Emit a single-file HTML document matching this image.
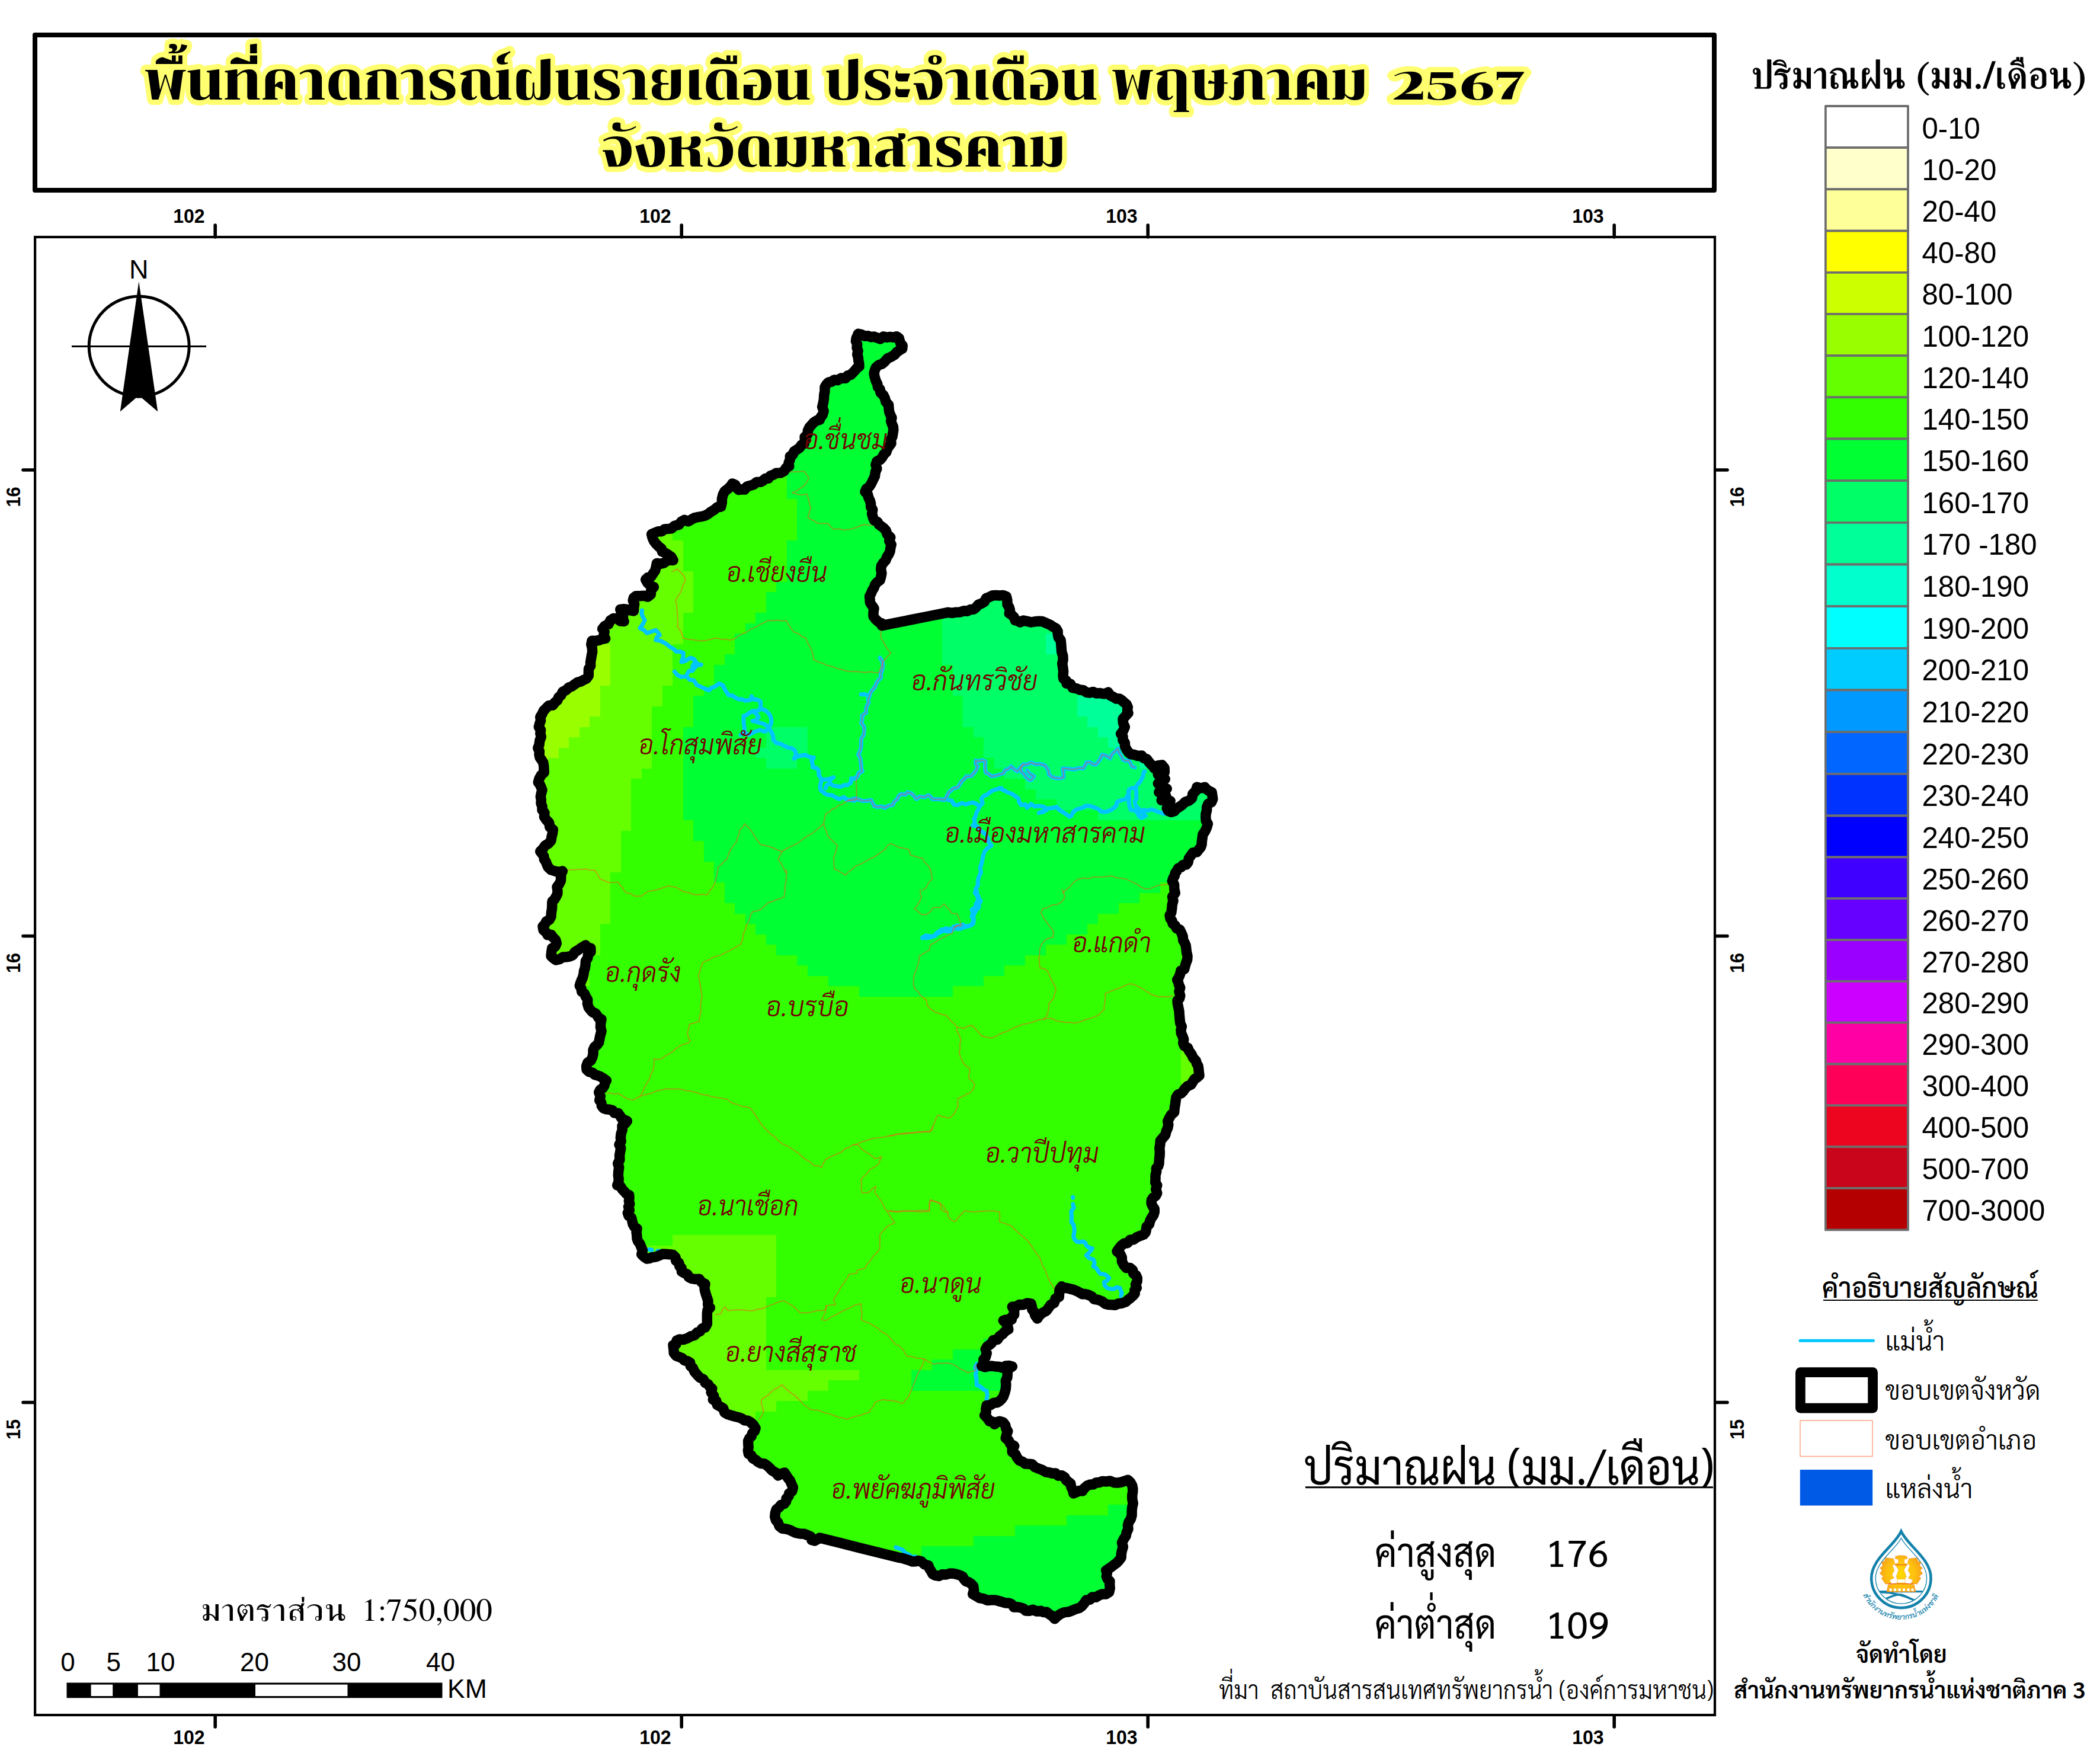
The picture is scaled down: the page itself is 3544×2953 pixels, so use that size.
<!DOCTYPE html>
<html lang="th"><head><meta charset="utf-8"><title>พื้นที่คาดการณ์ฝนรายเดือน จังหวัดมหาสารคาม</title>
<style>html,body{margin:0;padding:0;background:#fff}svg{display:block}text{white-space:pre}</style></head><body>
<svg width="3544" height="2953" viewBox="0 0 3544 2953">
<rect width="3544" height="2953" fill="#fff"/>
<rect x="59" y="59" width="2834" height="262" fill="#fff" stroke="#000" stroke-width="8" stroke-linejoin="round"/>
<text x="244.0" y="167.6" font-family="Chonburi,'Noto Serif Thai','Liberation Serif',serif" font-size="91" font-weight="400" textLength="2065.0" lengthAdjust="spacingAndGlyphs" stroke="#ffff70" stroke-width="18" stroke-linejoin="round" paint-order="stroke">พื้นที่คาดการณ์ฝนรายเดือน ประจำเดือน พฤษภาคม</text>
<text x="2349.0" y="167.6" font-family="Chonburi,'Noto Serif Thai','Liberation Serif',serif" font-size="65" font-weight="400" textLength="226.0" lengthAdjust="spacingAndGlyphs" stroke="#ffff70" stroke-width="18" stroke-linejoin="round" paint-order="stroke">2567</text>
<text x="1015.0" y="280.6" font-family="Chonburi,'Noto Serif Thai','Liberation Serif',serif" font-size="91" font-weight="400" textLength="784.0" lengthAdjust="spacingAndGlyphs" stroke="#ffff70" stroke-width="18" stroke-linejoin="round" paint-order="stroke">จังหวัดมหาสารคาม</text>
<rect x="59.1" y="400" width="2834.9" height="2494" fill="#fff" stroke="#000" stroke-width="4.2"/>
<g stroke="#000" stroke-width="5.6" stroke-linecap="round">
<path d="M363.2,380 V400 M363.2,2896 V2914"/>
<path d="M1150.2,380 V400 M1150.2,2896 V2914"/>
<path d="M1937.2,380 V400 M1937.2,2896 V2914"/>
<path d="M2724.2,380 V400 M2724.2,2896 V2914"/>
<path d="M39,793 H58 M2897,793 H2915"/>
<path d="M39,1579.5 H58 M2897,1579.5 H2915"/>
<path d="M39,2366.5 H58 M2897,2366.5 H2915"/>
</g>
<text x="292.2" y="376.0" font-family="'Liberation Sans',Arial,sans-serif" font-size="33" font-weight="700" textLength="53.5" lengthAdjust="spacingAndGlyphs">102</text>
<text x="292.2" y="2943.0" font-family="'Liberation Sans',Arial,sans-serif" font-size="33" font-weight="700" textLength="53.5" lengthAdjust="spacingAndGlyphs">102</text>
<text x="1079.2" y="376.0" font-family="'Liberation Sans',Arial,sans-serif" font-size="33" font-weight="700" textLength="53.5" lengthAdjust="spacingAndGlyphs">102</text>
<text x="1079.2" y="2943.0" font-family="'Liberation Sans',Arial,sans-serif" font-size="33" font-weight="700" textLength="53.5" lengthAdjust="spacingAndGlyphs">102</text>
<text x="1866.2" y="376.0" font-family="'Liberation Sans',Arial,sans-serif" font-size="33" font-weight="700" textLength="53.5" lengthAdjust="spacingAndGlyphs">103</text>
<text x="1866.2" y="2943.0" font-family="'Liberation Sans',Arial,sans-serif" font-size="33" font-weight="700" textLength="53.5" lengthAdjust="spacingAndGlyphs">103</text>
<text x="2653.2" y="376.0" font-family="'Liberation Sans',Arial,sans-serif" font-size="33" font-weight="700" textLength="53.5" lengthAdjust="spacingAndGlyphs">103</text>
<text x="2653.2" y="2943.0" font-family="'Liberation Sans',Arial,sans-serif" font-size="33" font-weight="700" textLength="53.5" lengthAdjust="spacingAndGlyphs">103</text>
<text transform="translate(34.4,855.5) rotate(-90)" font-family="'Liberation Sans',Arial,sans-serif" font-size="33" font-weight="700" textLength="34" lengthAdjust="spacingAndGlyphs">16</text>
<text transform="translate(2943,855.5) rotate(-90)" font-family="'Liberation Sans',Arial,sans-serif" font-size="33" font-weight="700" textLength="34" lengthAdjust="spacingAndGlyphs">16</text>
<text transform="translate(34.4,1642.0) rotate(-90)" font-family="'Liberation Sans',Arial,sans-serif" font-size="33" font-weight="700" textLength="34" lengthAdjust="spacingAndGlyphs">16</text>
<text transform="translate(2943,1642.0) rotate(-90)" font-family="'Liberation Sans',Arial,sans-serif" font-size="33" font-weight="700" textLength="34" lengthAdjust="spacingAndGlyphs">16</text>
<text transform="translate(34.4,2429.0) rotate(-90)" font-family="'Liberation Sans',Arial,sans-serif" font-size="33" font-weight="700" textLength="34" lengthAdjust="spacingAndGlyphs">15</text>
<text transform="translate(2943,2429.0) rotate(-90)" font-family="'Liberation Sans',Arial,sans-serif" font-size="33" font-weight="700" textLength="34" lengthAdjust="spacingAndGlyphs">15</text>
<text x="234.3" y="470.0" font-family="'Liberation Sans',Arial,sans-serif" font-size="45" font-weight="400" text-anchor="middle">N</text>
<circle cx="234.7" cy="584.4" r="84.5" fill="none" stroke="#000" stroke-width="5"/>
<path d="M121,584.4 H348" stroke="#000" stroke-width="3"/>
<path d="M234.3,475 L266.2,694.5 L239.2,671.5 H229.4 L202.8,694.5 Z" fill="#000"/>
<defs><clipPath id="prov"><path d="M1218.3,848.3 1218.4,841.6 1220.0,835.0 1223.0,829.0 1228.3,825.0 1232.7,820.9 1236.0,816.0 1240.9,818.2 1243.0,823.2 1246.7,826.7 1251.6,825.7 1256.7,826.0 1260.6,821.0 1266.7,819.3 1272.2,817.4 1277.1,813.4 1283.3,813.3 1287.7,811.1 1291.4,807.6 1296.7,807.3 1300.1,802.8 1305.4,801.1 1310.0,798.3 1317.0,798.1 1323.3,795.0 1326.3,789.7 1331.7,786.7 1331.0,781.0 1333.3,775.6 1333.3,770.0 1338.2,767.1 1340.0,761.7 1345.2,758.6 1350.0,755.0 1352.4,750.8 1357.3,748.4 1358.3,743.3 1358.1,737.2 1363.2,732.7 1363.3,726.7 1365.9,721.2 1370.0,716.7 1373.6,712.6 1378.0,709.7 1383.3,708.3 1385.1,703.7 1388.3,700.0 1390.1,693.4 1387.6,686.6 1389.3,680.0 1390.4,673.4 1390.7,666.7 1391.9,660.1 1392.0,653.3 1394.7,648.8 1398.3,645.0 1403.4,644.1 1407.9,640.9 1413.3,641.7 1419.5,638.1 1426.7,638.3 1430.3,634.0 1436.0,632.3 1440.0,628.3 1443.1,624.8 1446.1,621.1 1450.0,618.3 1449.8,613.3 1448.7,608.4 1448.3,603.3 1446.7,597.9 1448.1,592.0 1446.0,586.7 1446.7,581.1 1444.4,575.6 1445.3,570.0 1447.1,566.8 1448.3,563.3 1453.9,564.6 1459.1,567.2 1465.0,566.7 1469.8,568.8 1475.2,568.0 1480.0,570.0 1485.6,571.9 1491.0,567.9 1496.7,569.3 1502.2,568.4 1507.9,569.3 1513.3,567.7 1517.1,570.5 1518.3,575.0 1519.8,579.4 1523.2,583.3 1522.7,588.3 1518.0,591.1 1513.5,594.1 1510.0,598.3 1504.3,602.0 1497.9,604.8 1493.3,610.0 1488.8,614.0 1482.9,616.0 1478.3,620.0 1476.3,624.9 1475.0,630.0 1476.3,636.8 1478.3,643.3 1480.7,647.7 1481.4,652.9 1485.0,656.7 1486.1,662.6 1490.7,666.6 1493.3,671.7 1494.9,678.0 1499.6,683.2 1500.0,690.0 1500.8,695.3 1502.7,700.2 1505.0,705.0 1503.6,710.3 1505.2,715.2 1507.3,720.0 1507.8,725.6 1506.9,731.2 1506.0,736.7 1503.3,742.0 1504.0,748.5 1500.0,753.3 1497.4,757.9 1495.7,763.0 1491.7,766.7 1489.0,771.7 1485.3,775.8 1480.0,778.3 1477.9,784.3 1479.8,790.8 1477.3,796.7 1476.4,803.7 1473.3,810.0 1470.4,816.1 1466.7,821.7 1462.1,824.8 1460.0,830.0 1464.4,834.1 1465.8,839.9 1468.3,845.0 1469.6,850.1 1469.6,855.5 1472.7,860.0 1471.6,866.7 1473.3,873.3 1475.5,878.3 1480.7,880.5 1483.3,885.0 1487.5,888.1 1491.5,891.2 1495.0,895.0 1497.4,901.8 1502.7,906.7 1500.7,912.8 1504.2,918.9 1502.7,925.0 1502.0,930.5 1499.8,935.4 1496.7,940.0 1494.6,945.6 1490.5,950.0 1487.3,955.0 1486.7,961.1 1487.9,967.3 1486.7,973.3 1485.1,979.1 1480.3,982.4 1476.7,986.7 1475.0,991.9 1472.0,996.5 1470.0,1001.7 1467.5,1006.4 1468.1,1011.6 1468.3,1016.7 1471.6,1021.7 1475.0,1026.7 1474.0,1033.3 1474.0,1040.0 1478.1,1045.5 1483.3,1050.0 1487.3,1051.5 1488.3,1055.7 1533.3,1046.7 1566.7,1040.0 1600.0,1033.3 1606.8,1034.4 1613.5,1033.2 1620.2,1033.0 1626.7,1030.7 1632.4,1031.2 1637.7,1028.6 1643.3,1028.3 1647.5,1024.6 1651.2,1020.3 1656.7,1018.3 1661.5,1015.1 1664.3,1009.5 1670.0,1007.3 1675.3,1004.7 1680.9,1004.5 1686.7,1005.0 1692.7,1004.4 1698.3,1006.7 1699.9,1013.2 1700.0,1020.0 1703.0,1024.6 1704.4,1029.5 1703.3,1035.0 1707.8,1037.9 1711.3,1041.6 1713.3,1046.7 1717.7,1047.8 1721.7,1050.0 1727.2,1047.1 1733.3,1048.3 1740.0,1050.0 1746.7,1048.8 1753.3,1048.3 1758.8,1048.5 1763.7,1050.6 1768.5,1052.7 1773.3,1055.0 1777.6,1057.9 1782.2,1060.4 1785.0,1065.0 1785.2,1070.5 1786.3,1075.7 1790.0,1080.0 1790.7,1086.7 1791.2,1093.3 1791.7,1100.0 1793.8,1106.6 1794.1,1113.2 1792.7,1120.0 1793.8,1126.6 1794.6,1133.3 1794.0,1140.0 1794.7,1145.0 1799.4,1148.3 1800.0,1153.3 1806.5,1154.2 1810.2,1160.7 1816.7,1161.7 1822.2,1164.0 1828.4,1164.7 1833.3,1168.3 1838.9,1169.1 1844.7,1167.4 1850.0,1170.0 1856.7,1169.6 1863.5,1171.0 1870.0,1168.3 1874.0,1173.7 1880.0,1176.7 1884.1,1179.1 1889.3,1179.0 1893.3,1181.7 1897.1,1185.2 1901.1,1188.5 1903.3,1193.3 1902.5,1198.4 1904.0,1203.3 1899.4,1208.2 1895.0,1213.3 1895.5,1220.3 1898.3,1226.7 1895.7,1232.9 1891.7,1238.3 1895.0,1242.8 1894.9,1248.9 1898.3,1253.3 1898.6,1259.7 1901.3,1265.0 1905.0,1270.0 1908.7,1272.9 1913.3,1273.3 1919.8,1275.6 1926.7,1275.0 1929.9,1279.1 1935.2,1280.8 1938.3,1285.0 1941.6,1288.9 1945.5,1292.4 1948.3,1296.7 1953.8,1291.9 1961.0,1290.8 1965.1,1296.0 1965.4,1302.6 1960.2,1305.7 1954.3,1307.1 1958.8,1308.7 1961.8,1312.8 1966.2,1314.5 1961.2,1315.3 1958.4,1319.7 1954.3,1322.0 1958.3,1326.6 1963.1,1329.8 1969.2,1330.9 1963.9,1331.0 1960.5,1335.4 1955.8,1336.8 1962.3,1338.7 1967.7,1342.8 1964.8,1347.4 1960.2,1350.2 1965.3,1349.4 1970.3,1349.9 1975.1,1351.7 1971.7,1357.4 1969.2,1363.6 1971.7,1368.3 1976.6,1370.3 1981.9,1368.7 1985.5,1364.5 1990.0,1361.7 1995.4,1358.0 2000.0,1353.3 2006.5,1351.1 2011.7,1346.7 2012.8,1339.8 2017.9,1334.7 2020.0,1328.3 2026.7,1330.1 2033.3,1328.3 2036.5,1332.1 2040.5,1334.8 2045.0,1336.7 2045.9,1342.5 2046.7,1348.3 2044.5,1353.6 2039.0,1356.5 2036.7,1361.7 2036.6,1367.6 2035.0,1373.3 2034.8,1379.1 2035.2,1384.9 2038.3,1390.0 2037.1,1394.6 2035.4,1399.0 2033.3,1403.3 2029.8,1408.3 2029.1,1414.2 2028.3,1420.0 2028.0,1425.0 2026.5,1429.5 2023.3,1433.3 2019.8,1437.9 2013.4,1438.6 2010.0,1443.3 2006.3,1448.6 2005.0,1455.0 2002.0,1459.0 1996.4,1459.4 1993.3,1463.3 1988.5,1465.2 1986.2,1469.5 1983.3,1473.3 1982.3,1478.0 1979.8,1482.1 1978.3,1486.7 1981.6,1492.9 1981.7,1500.0 1983.2,1506.8 1978.5,1513.2 1980.0,1520.0 1978.2,1526.6 1977.7,1533.3 1976.7,1540.0 1974.0,1544.7 1975.0,1550.0 1978.0,1553.7 1979.2,1558.7 1983.3,1561.7 1985.6,1566.5 1991.0,1568.6 1993.3,1573.3 1996.1,1579.7 1996.7,1586.7 1999.2,1590.8 2001.1,1595.2 2001.7,1600.0 2002.5,1606.7 2004.0,1613.3 2003.7,1619.1 2001.7,1624.5 2000.0,1630.0 1998.6,1635.3 1992.9,1637.9 1991.7,1643.3 1989.7,1648.6 1986.7,1653.3 1988.5,1657.7 1989.7,1662.4 1991.7,1666.7 1989.9,1673.3 1991.7,1680.0 1990.6,1684.6 1987.0,1688.3 1987.3,1693.3 1988.7,1700.0 1990.0,1706.7 1990.4,1713.3 1991.0,1720.0 1991.7,1726.7 1994.3,1732.0 1993.0,1737.8 1993.3,1743.3 1995.8,1748.6 1997.7,1754.0 1996.7,1760.0 1998.9,1765.2 2004.5,1768.0 2006.7,1773.3 2010.7,1778.8 2013.6,1785.0 2018.3,1790.0 2019.5,1794.5 2022.0,1798.7 2022.7,1803.3 2023.3,1809.2 2024.0,1815.0 2020.3,1818.2 2016.0,1820.8 2013.3,1825.0 2010.0,1830.2 2004.3,1832.6 2000.0,1836.7 1997.0,1841.2 1993.2,1844.9 1987.9,1847.1 1985.0,1851.7 1984.1,1857.5 1983.3,1863.3 1982.2,1870.0 1981.7,1876.7 1976.6,1880.9 1973.3,1886.7 1970.7,1891.9 1971.8,1897.8 1970.7,1903.3 1968.2,1909.0 1966.7,1915.0 1962.5,1920.0 1958.3,1925.0 1957.9,1931.1 1956.8,1937.2 1957.3,1943.3 1957.1,1950.0 1956.3,1956.7 1956.0,1963.3 1954.6,1967.8 1951.3,1971.6 1951.7,1976.7 1950.0,1983.2 1950.0,1990.0 1949.7,1995.4 1952.7,2000.0 1950.7,2006.7 1952.7,2013.3 1950.4,2017.9 1946.2,2020.9 1943.3,2025.0 1943.1,2030.6 1945.2,2035.5 1948.3,2040.0 1948.2,2045.5 1946.6,2050.5 1943.3,2055.0 1940.8,2060.1 1939.4,2065.9 1935.0,2070.0 1934.4,2074.8 1933.4,2079.5 1930.0,2083.3 1924.1,2085.4 1918.3,2087.8 1913.3,2091.7 1907.1,2092.3 1902.8,2097.5 1896.7,2098.3 1892.1,2102.2 1888.4,2106.8 1885.0,2111.7 1890.4,2115.7 1893.3,2121.7 1893.4,2128.7 1896.7,2135.0 1900.7,2139.6 1907.3,2139.5 1911.7,2143.3 1912.5,2148.8 1917.2,2152.0 1919.3,2156.7 1919.1,2162.2 1916.5,2167.6 1918.3,2173.3 1914.8,2177.1 1915.2,2182.9 1911.7,2186.7 1908.0,2190.2 1903.8,2193.3 1900.0,2196.7 1893.5,2199.0 1886.7,2200.0 1881.9,2202.2 1876.7,2201.7 1870.7,2201.6 1865.0,2200.0 1859.7,2195.8 1853.3,2193.3 1846.8,2192.4 1842.3,2187.6 1836.7,2185.0 1831.6,2183.6 1826.0,2183.7 1821.4,2180.7 1816.7,2178.3 1811.3,2176.1 1805.6,2174.9 1800.0,2173.3 1795.2,2173.8 1791.7,2170.7 1788.1,2176.0 1787.5,2182.1 1787.3,2188.3 1781.2,2191.3 1779.2,2198.5 1773.3,2201.7 1769.6,2206.8 1765.9,2212.0 1760.0,2215.0 1754.4,2219.2 1750.7,2225.0 1746.9,2219.6 1745.0,2213.3 1741.8,2209.5 1741.3,2204.6 1740.0,2200.0 1733.1,2199.0 1726.7,2201.7 1720.3,2201.4 1714.6,2204.9 1708.3,2205.0 1711.5,2211.3 1711.7,2218.3 1707.9,2221.6 1707.3,2226.7 1702.6,2226.9 1697.9,2226.9 1693.3,2228.3 1697.7,2232.5 1700.6,2237.4 1701.7,2243.3 1696.2,2246.6 1691.9,2251.4 1686.7,2255.0 1683.5,2260.3 1676.5,2261.3 1673.3,2266.7 1669.6,2269.6 1665.7,2272.4 1663.3,2276.7 1665.2,2283.3 1663.3,2290.0 1659.7,2294.4 1660.6,2300.8 1656.7,2305.0 1662.4,2306.8 1668.3,2305.3 1674.2,2305.0 1680.0,2306.0 1685.7,2306.2 1691.3,2307.9 1697.0,2305.0 1702.7,2304.4 1708.3,2306.0 1704.1,2308.7 1700.0,2311.7 1700.3,2317.9 1699.9,2324.1 1697.3,2330.0 1697.8,2336.9 1697.3,2343.6 1695.6,2350.2 1693.3,2356.7 1690.6,2360.6 1687.3,2363.9 1683.3,2366.7 1676.9,2367.2 1671.4,2370.9 1665.0,2371.7 1663.9,2377.2 1664.2,2383.1 1661.7,2388.3 1666.4,2392.9 1670.0,2398.3 1675.3,2399.0 1678.3,2403.3 1681.9,2399.9 1686.7,2398.3 1692.8,2399.9 1696.7,2405.0 1697.7,2410.4 1700.7,2415.0 1698.8,2420.8 1697.3,2426.7 1702.3,2430.8 1705.0,2436.7 1708.4,2438.2 1711.7,2440.0 1708.2,2444.4 1708.3,2450.0 1713.8,2453.9 1716.7,2460.0 1720.3,2464.5 1725.7,2466.4 1730.0,2470.0 1735.8,2470.3 1741.7,2470.7 1746.7,2475.7 1753.3,2478.3 1759.4,2480.7 1765.0,2484.0 1770.6,2484.7 1776.0,2486.2 1781.7,2486.0 1785.8,2490.2 1791.9,2489.8 1796.7,2492.7 1798.9,2497.2 1802.7,2500.4 1806.7,2503.3 1807.8,2509.1 1810.4,2514.3 1811.7,2520.0 1816.5,2518.0 1821.2,2515.4 1826.7,2516.0 1830.1,2511.1 1834.4,2507.2 1840.0,2505.0 1845.2,2504.9 1849.8,2501.7 1855.0,2501.7 1860.6,2499.4 1866.7,2500.0 1873.6,2499.0 1880.0,2501.7 1886.1,2502.1 1892.0,2501.1 1897.6,2499.2 1903.3,2497.3 1907.8,2501.4 1910.7,2506.7 1911.8,2512.2 1911.6,2517.8 1910.7,2523.3 1910.8,2530.0 1912.2,2536.7 1910.7,2543.3 1910.1,2550.0 1910.1,2556.8 1908.3,2563.3 1904.9,2568.4 1903.4,2573.9 1904.0,2580.0 1901.4,2585.5 1900.1,2591.6 1896.7,2596.7 1893.5,2603.0 1895.3,2610.1 1893.3,2616.7 1892.3,2622.4 1892.1,2628.4 1888.3,2633.3 1884.8,2637.1 1880.6,2640.1 1876.7,2643.3 1871.7,2646.7 1866.7,2650.0 1868.3,2654.9 1867.3,2660.0 1869.1,2664.5 1872.9,2668.1 1872.7,2673.3 1873.2,2680.1 1871.7,2686.7 1866.3,2690.1 1860.0,2690.0 1854.6,2692.1 1849.5,2695.3 1843.3,2695.0 1839.3,2699.4 1833.3,2700.0 1830.1,2705.0 1826.4,2709.7 1821.7,2713.3 1815.4,2715.2 1809.4,2717.7 1803.3,2720.0 1796.4,2720.6 1790.0,2723.3 1784.6,2727.0 1780.0,2731.7 1775.6,2726.8 1770.0,2723.3 1766.1,2720.1 1760.9,2720.5 1756.7,2718.3 1750.0,2719.1 1743.3,2716.2 1736.7,2718.3 1731.2,2718.1 1727.0,2714.1 1721.9,2712.7 1716.7,2711.7 1711.0,2711.9 1707.1,2706.9 1702.2,2705.0 1696.7,2705.0 1691.0,2703.2 1685.2,2701.5 1679.5,2699.9 1673.3,2700.0 1666.4,2700.5 1660.0,2697.7 1653.3,2696.7 1647.5,2693.3 1641.7,2690.0 1643.6,2683.4 1642.7,2676.7 1639.2,2672.8 1635.0,2669.9 1630.0,2668.3 1626.9,2664.7 1624.6,2660.4 1620.0,2658.3 1614.6,2656.4 1609.1,2655.3 1603.3,2655.0 1596.8,2657.0 1590.0,2656.7 1584.5,2659.5 1578.3,2658.3 1573.9,2656.1 1571.7,2651.7 1568.6,2646.9 1566.7,2641.7 1560.0,2639.8 1555.0,2635.0 1550.0,2633.5 1545.0,2634.7 1540.0,2635.0 1534.3,2632.8 1528.5,2631.1 1522.7,2629.2 1516.7,2628.3 1483.3,2620.0 1450.0,2611.7 1416.7,2603.3 1383.3,2595.0 1379.2,2597.5 1375.0,2600.0 1369.7,2598.6 1368.0,2592.8 1363.3,2590.7 1356.9,2588.3 1350.0,2588.0 1343.3,2586.7 1337.8,2584.3 1332.5,2581.6 1326.7,2580.0 1320.1,2579.3 1315.0,2575.0 1313.1,2569.5 1309.3,2565.0 1307.7,2559.3 1308.3,2553.3 1310.1,2547.3 1315.0,2543.3 1318.2,2539.2 1323.4,2537.4 1326.7,2533.3 1327.1,2528.4 1331.0,2524.8 1331.7,2520.0 1336.7,2516.2 1338.3,2510.0 1335.8,2504.2 1333.3,2498.3 1329.8,2494.2 1327.0,2489.5 1324.0,2485.0 1318.3,2486.8 1313.3,2490.0 1309.1,2484.9 1303.3,2481.7 1299.2,2477.4 1294.9,2473.4 1290.0,2470.0 1284.2,2469.5 1279.4,2467.0 1275.0,2463.3 1270.4,2460.8 1267.9,2455.9 1263.3,2453.3 1262.3,2447.8 1263.2,2442.2 1262.7,2436.7 1262.6,2431.4 1264.7,2427.0 1268.3,2423.3 1269.6,2418.4 1273.5,2414.8 1275.0,2410.0 1271.5,2404.5 1266.7,2400.0 1262.0,2397.2 1256.3,2396.7 1251.7,2393.7 1246.7,2391.7 1240.5,2390.2 1234.4,2388.5 1228.3,2386.7 1222.7,2383.4 1220.7,2376.6 1215.0,2373.3 1210.2,2370.4 1208.7,2364.1 1203.3,2361.7 1204.7,2355.4 1200.1,2349.6 1201.7,2343.3 1197.7,2340.1 1194.8,2335.6 1190.0,2333.3 1187.0,2327.4 1181.0,2324.6 1176.7,2320.0 1172.1,2314.7 1169.3,2308.3 1165.2,2305.2 1164.6,2299.3 1160.0,2296.7 1155.0,2295.6 1151.3,2291.9 1146.7,2290.0 1141.1,2287.9 1137.3,2283.3 1136.8,2276.7 1136.0,2270.0 1140.9,2268.1 1142.0,2262.2 1146.7,2260.0 1153.5,2260.6 1160.0,2258.3 1165.6,2255.0 1172.0,2253.1 1176.7,2248.3 1181.6,2246.3 1184.9,2241.8 1190.0,2240.0 1193.4,2233.8 1193.3,2226.7 1193.3,2221.7 1193.3,2216.7 1194.0,2210.7 1198.3,2206.7 1194.6,2201.7 1195.0,2195.6 1193.3,2190.0 1191.1,2183.4 1189.3,2176.7 1188.8,2171.6 1190.0,2166.7 1184.0,2163.7 1180.0,2158.3 1173.3,2158.5 1166.7,2157.3 1162.3,2155.0 1159.8,2150.1 1155.0,2148.3 1150.4,2145.7 1150.3,2139.9 1146.7,2136.7 1145.8,2131.1 1140.7,2127.3 1140.0,2121.7 1135.8,2117.5 1130.0,2116.7 1124.4,2116.3 1118.7,2116.0 1113.3,2118.3 1106.9,2120.9 1100.0,2121.7 1096.0,2123.4 1091.7,2124.0 1086.9,2120.7 1082.7,2116.7 1084.4,2109.8 1081.7,2103.3 1079.8,2098.7 1076.7,2094.7 1075.0,2090.0 1074.7,2084.4 1074.0,2078.9 1075.0,2073.3 1070.5,2069.9 1068.0,2065.4 1066.7,2060.0 1065.5,2054.8 1061.0,2051.6 1059.3,2046.7 1062.3,2042.1 1060.5,2036.4 1062.7,2031.7 1061.3,2026.7 1062.0,2021.7 1061.7,2016.7 1056.9,2014.4 1053.5,2010.4 1050.0,2006.7 1047.1,2001.8 1041.7,2000.0 1043.9,1994.6 1044.1,1989.0 1043.3,1983.3 1043.7,1976.6 1044.7,1969.9 1042.7,1963.3 1045.9,1957.0 1045.5,1950.0 1046.7,1943.3 1047.8,1937.5 1045.0,1931.6 1048.2,1925.9 1047.3,1920.0 1048.0,1913.3 1050.2,1906.8 1050.0,1900.0 1054.6,1896.3 1058.3,1891.7 1053.9,1889.7 1049.4,1887.7 1046.7,1883.3 1043.3,1878.5 1036.8,1878.0 1033.3,1873.3 1028.3,1872.3 1023.2,1871.8 1018.3,1870.0 1015.3,1866.0 1014.8,1860.6 1011.7,1856.7 1013.3,1849.8 1010.7,1843.3 1013.0,1838.8 1017.4,1836.0 1020.0,1831.7 1020.9,1827.2 1023.3,1823.3 1018.5,1819.8 1013.3,1816.7 1008.7,1814.9 1003.8,1813.5 1000.0,1810.0 994.3,1808.8 990.0,1805.0 989.6,1799.0 991.7,1793.3 997.2,1789.5 1000.0,1783.3 1001.1,1777.8 1001.0,1772.0 1003.3,1766.7 1007.6,1763.2 1010.7,1758.9 1011.7,1753.3 1013.1,1746.6 1015.0,1740.0 1013.4,1733.3 1013.6,1726.7 1015.0,1720.0 1010.4,1717.9 1007.8,1713.8 1005.0,1710.0 999.9,1708.0 996.5,1704.2 993.3,1700.0 991.4,1693.5 991.7,1686.7 988.6,1682.0 986.4,1676.8 981.7,1673.3 981.0,1668.0 978.3,1663.3 979.6,1658.8 981.3,1654.3 983.3,1650.0 984.8,1644.5 985.5,1638.8 987.3,1633.3 988.1,1627.6 988.4,1621.7 991.7,1616.7 992.4,1610.8 997.0,1606.1 996.7,1600.0 991.7,1598.9 988.3,1595.0 984.2,1597.5 980.0,1600.0 975.2,1603.5 970.1,1606.6 966.7,1611.7 961.4,1614.0 955.8,1614.9 950.0,1615.0 944.6,1618.5 938.3,1620.0 933.9,1617.0 930.0,1613.3 930.6,1606.6 931.7,1600.0 937.0,1597.2 939.3,1591.7 937.6,1585.9 933.3,1581.7 930.4,1577.6 924.3,1577.8 921.7,1573.3 917.0,1569.3 916.0,1563.3 919.6,1559.7 921.7,1555.0 927.1,1552.1 930.0,1546.7 930.4,1540.0 931.5,1533.4 931.7,1526.7 931.9,1521.2 935.7,1517.6 938.3,1513.3 940.8,1508.0 940.9,1502.4 940.0,1496.7 943.7,1491.7 946.4,1486.3 946.7,1480.0 946.9,1474.7 949.3,1470.0 943.0,1471.7 936.7,1470.0 930.1,1468.0 925.0,1463.3 922.9,1458.8 921.3,1454.1 918.3,1450.0 917.8,1444.7 914.8,1440.7 911.7,1436.7 916.3,1432.1 920.0,1426.7 925.7,1423.4 930.0,1418.3 930.9,1412.2 932.4,1406.2 933.3,1400.0 927.8,1395.6 926.6,1388.2 921.7,1383.3 918.4,1378.2 918.9,1371.5 915.0,1366.7 915.1,1361.0 913.0,1355.6 913.3,1350.0 912.3,1344.3 913.4,1338.8 915.0,1333.3 913.3,1328.6 911.3,1324.1 908.3,1320.0 910.2,1313.6 913.4,1307.9 918.3,1303.3 917.9,1297.8 917.6,1292.2 916.7,1286.7 914.0,1282.4 911.1,1278.3 910.0,1273.3 910.4,1267.8 907.8,1262.2 910.0,1256.7 910.8,1249.8 913.3,1243.3 911.8,1237.8 912.6,1231.8 909.3,1226.7 910.7,1221.2 912.6,1215.8 911.7,1210.0 914.9,1204.9 917.4,1199.4 921.7,1195.0 926.0,1190.7 932.8,1190.0 936.7,1185.0 940.7,1181.7 942.7,1176.7 946.7,1173.3 949.6,1167.4 955.6,1164.4 960.0,1160.0 965.3,1158.2 969.8,1154.7 974.5,1151.5 980.0,1150.0 984.9,1147.3 990.0,1144.8 993.3,1140.0 993.3,1134.2 993.5,1128.5 996.7,1123.3 996.5,1117.7 997.4,1112.2 998.3,1106.7 999.6,1100.1 999.3,1093.3 997.8,1087.4 999.0,1081.3 1004.9,1081.6 1010.5,1080.4 1016.0,1078.5 1021.6,1077.5 1018.7,1072.4 1020.2,1066.0 1016.6,1061.1 1020.8,1056.1 1027.0,1053.3 1030.0,1047.0 1035.5,1043.5 1041.7,1044.0 1046.9,1048.0 1053.1,1048.6 1050.7,1043.8 1051.8,1037.9 1048.4,1033.5 1046.8,1028.4 1052.6,1027.7 1058.2,1028.4 1063.8,1029.9 1069.4,1030.9 1069.7,1025.0 1070.6,1019.0 1068.2,1013.3 1069.4,1008.7 1073.2,1005.8 1079.9,1005.7 1086.7,1005.3 1093.3,1007.0 1098.4,1002.7 1098.7,995.3 1103.4,990.7 1097.5,988.0 1092.9,983.7 1089.6,978.1 1093.4,974.4 1099.0,972.7 1102.0,968.0 1105.7,962.7 1107.2,956.6 1108.4,950.4 1114.3,951.6 1119.8,950.3 1124.9,946.7 1130.3,945.0 1136.1,945.4 1132.8,939.8 1127.6,936.2 1122.3,932.8 1117.5,930.9 1116.1,925.6 1112.2,922.8 1107.4,918.1 1103.4,912.7 1101.0,907.2 1099.6,901.4 1105.1,899.1 1110.6,896.8 1116.7,896.7 1121.6,892.9 1127.5,892.4 1133.3,891.7 1138.5,887.2 1145.6,885.5 1150.0,880.0 1155.2,877.3 1161.5,879.8 1166.7,876.7 1171.9,873.8 1177.6,872.7 1183.3,871.7 1189.5,870.2 1195.1,867.4 1200.0,863.3 1205.4,860.3 1210.2,856.0 1216.7,855.0Z"/></clipPath></defs>
<g clip-path="url(#prov)">
<path d="M1218.3,848.3 1218.4,841.6 1220.0,835.0 1223.0,829.0 1228.3,825.0 1232.7,820.9 1236.0,816.0 1240.9,818.2 1243.0,823.2 1246.7,826.7 1251.6,825.7 1256.7,826.0 1260.6,821.0 1266.7,819.3 1272.2,817.4 1277.1,813.4 1283.3,813.3 1287.7,811.1 1291.4,807.6 1296.7,807.3 1300.1,802.8 1305.4,801.1 1310.0,798.3 1317.0,798.1 1323.3,795.0 1326.3,789.7 1331.7,786.7 1331.0,781.0 1333.3,775.6 1333.3,770.0 1338.2,767.1 1340.0,761.7 1345.2,758.6 1350.0,755.0 1352.4,750.8 1357.3,748.4 1358.3,743.3 1358.1,737.2 1363.2,732.7 1363.3,726.7 1365.9,721.2 1370.0,716.7 1373.6,712.6 1378.0,709.7 1383.3,708.3 1385.1,703.7 1388.3,700.0 1390.1,693.4 1387.6,686.6 1389.3,680.0 1390.4,673.4 1390.7,666.7 1391.9,660.1 1392.0,653.3 1394.7,648.8 1398.3,645.0 1403.4,644.1 1407.9,640.9 1413.3,641.7 1419.5,638.1 1426.7,638.3 1430.3,634.0 1436.0,632.3 1440.0,628.3 1443.1,624.8 1446.1,621.1 1450.0,618.3 1449.8,613.3 1448.7,608.4 1448.3,603.3 1446.7,597.9 1448.1,592.0 1446.0,586.7 1446.7,581.1 1444.4,575.6 1445.3,570.0 1447.1,566.8 1448.3,563.3 1453.9,564.6 1459.1,567.2 1465.0,566.7 1469.8,568.8 1475.2,568.0 1480.0,570.0 1485.6,571.9 1491.0,567.9 1496.7,569.3 1502.2,568.4 1507.9,569.3 1513.3,567.7 1517.1,570.5 1518.3,575.0 1519.8,579.4 1523.2,583.3 1522.7,588.3 1518.0,591.1 1513.5,594.1 1510.0,598.3 1504.3,602.0 1497.9,604.8 1493.3,610.0 1488.8,614.0 1482.9,616.0 1478.3,620.0 1476.3,624.9 1475.0,630.0 1476.3,636.8 1478.3,643.3 1480.7,647.7 1481.4,652.9 1485.0,656.7 1486.1,662.6 1490.7,666.6 1493.3,671.7 1494.9,678.0 1499.6,683.2 1500.0,690.0 1500.8,695.3 1502.7,700.2 1505.0,705.0 1503.6,710.3 1505.2,715.2 1507.3,720.0 1507.8,725.6 1506.9,731.2 1506.0,736.7 1503.3,742.0 1504.0,748.5 1500.0,753.3 1497.4,757.9 1495.7,763.0 1491.7,766.7 1489.0,771.7 1485.3,775.8 1480.0,778.3 1477.9,784.3 1479.8,790.8 1477.3,796.7 1476.4,803.7 1473.3,810.0 1470.4,816.1 1466.7,821.7 1462.1,824.8 1460.0,830.0 1464.4,834.1 1465.8,839.9 1468.3,845.0 1469.6,850.1 1469.6,855.5 1472.7,860.0 1471.6,866.7 1473.3,873.3 1475.5,878.3 1480.7,880.5 1483.3,885.0 1487.5,888.1 1491.5,891.2 1495.0,895.0 1497.4,901.8 1502.7,906.7 1500.7,912.8 1504.2,918.9 1502.7,925.0 1502.0,930.5 1499.8,935.4 1496.7,940.0 1494.6,945.6 1490.5,950.0 1487.3,955.0 1486.7,961.1 1487.9,967.3 1486.7,973.3 1485.1,979.1 1480.3,982.4 1476.7,986.7 1475.0,991.9 1472.0,996.5 1470.0,1001.7 1467.5,1006.4 1468.1,1011.6 1468.3,1016.7 1471.6,1021.7 1475.0,1026.7 1474.0,1033.3 1474.0,1040.0 1478.1,1045.5 1483.3,1050.0 1487.3,1051.5 1488.3,1055.7 1533.3,1046.7 1566.7,1040.0 1600.0,1033.3 1606.8,1034.4 1613.5,1033.2 1620.2,1033.0 1626.7,1030.7 1632.4,1031.2 1637.7,1028.6 1643.3,1028.3 1647.5,1024.6 1651.2,1020.3 1656.7,1018.3 1661.5,1015.1 1664.3,1009.5 1670.0,1007.3 1675.3,1004.7 1680.9,1004.5 1686.7,1005.0 1692.7,1004.4 1698.3,1006.7 1699.9,1013.2 1700.0,1020.0 1703.0,1024.6 1704.4,1029.5 1703.3,1035.0 1707.8,1037.9 1711.3,1041.6 1713.3,1046.7 1717.7,1047.8 1721.7,1050.0 1727.2,1047.1 1733.3,1048.3 1740.0,1050.0 1746.7,1048.8 1753.3,1048.3 1758.8,1048.5 1763.7,1050.6 1768.5,1052.7 1773.3,1055.0 1777.6,1057.9 1782.2,1060.4 1785.0,1065.0 1785.2,1070.5 1786.3,1075.7 1790.0,1080.0 1790.7,1086.7 1791.2,1093.3 1791.7,1100.0 1793.8,1106.6 1794.1,1113.2 1792.7,1120.0 1793.8,1126.6 1794.6,1133.3 1794.0,1140.0 1794.7,1145.0 1799.4,1148.3 1800.0,1153.3 1806.5,1154.2 1810.2,1160.7 1816.7,1161.7 1822.2,1164.0 1828.4,1164.7 1833.3,1168.3 1838.9,1169.1 1844.7,1167.4 1850.0,1170.0 1856.7,1169.6 1863.5,1171.0 1870.0,1168.3 1874.0,1173.7 1880.0,1176.7 1884.1,1179.1 1889.3,1179.0 1893.3,1181.7 1897.1,1185.2 1901.1,1188.5 1903.3,1193.3 1902.5,1198.4 1904.0,1203.3 1899.4,1208.2 1895.0,1213.3 1895.5,1220.3 1898.3,1226.7 1895.7,1232.9 1891.7,1238.3 1895.0,1242.8 1894.9,1248.9 1898.3,1253.3 1898.6,1259.7 1901.3,1265.0 1905.0,1270.0 1908.7,1272.9 1913.3,1273.3 1919.8,1275.6 1926.7,1275.0 1929.9,1279.1 1935.2,1280.8 1938.3,1285.0 1941.6,1288.9 1945.5,1292.4 1948.3,1296.7 1953.8,1291.9 1961.0,1290.8 1965.1,1296.0 1965.4,1302.6 1960.2,1305.7 1954.3,1307.1 1958.8,1308.7 1961.8,1312.8 1966.2,1314.5 1961.2,1315.3 1958.4,1319.7 1954.3,1322.0 1958.3,1326.6 1963.1,1329.8 1969.2,1330.9 1963.9,1331.0 1960.5,1335.4 1955.8,1336.8 1962.3,1338.7 1967.7,1342.8 1964.8,1347.4 1960.2,1350.2 1965.3,1349.4 1970.3,1349.9 1975.1,1351.7 1971.7,1357.4 1969.2,1363.6 1971.7,1368.3 1976.6,1370.3 1981.9,1368.7 1985.5,1364.5 1990.0,1361.7 1995.4,1358.0 2000.0,1353.3 2006.5,1351.1 2011.7,1346.7 2012.8,1339.8 2017.9,1334.7 2020.0,1328.3 2026.7,1330.1 2033.3,1328.3 2036.5,1332.1 2040.5,1334.8 2045.0,1336.7 2045.9,1342.5 2046.7,1348.3 2044.5,1353.6 2039.0,1356.5 2036.7,1361.7 2036.6,1367.6 2035.0,1373.3 2034.8,1379.1 2035.2,1384.9 2038.3,1390.0 2037.1,1394.6 2035.4,1399.0 2033.3,1403.3 2029.8,1408.3 2029.1,1414.2 2028.3,1420.0 2028.0,1425.0 2026.5,1429.5 2023.3,1433.3 2019.8,1437.9 2013.4,1438.6 2010.0,1443.3 2006.3,1448.6 2005.0,1455.0 2002.0,1459.0 1996.4,1459.4 1993.3,1463.3 1988.5,1465.2 1986.2,1469.5 1983.3,1473.3 1982.3,1478.0 1979.8,1482.1 1978.3,1486.7 1981.6,1492.9 1981.7,1500.0 1983.2,1506.8 1978.5,1513.2 1980.0,1520.0 1978.2,1526.6 1977.7,1533.3 1976.7,1540.0 1974.0,1544.7 1975.0,1550.0 1978.0,1553.7 1979.2,1558.7 1983.3,1561.7 1985.6,1566.5 1991.0,1568.6 1993.3,1573.3 1996.1,1579.7 1996.7,1586.7 1999.2,1590.8 2001.1,1595.2 2001.7,1600.0 2002.5,1606.7 2004.0,1613.3 2003.7,1619.1 2001.7,1624.5 2000.0,1630.0 1998.6,1635.3 1992.9,1637.9 1991.7,1643.3 1989.7,1648.6 1986.7,1653.3 1988.5,1657.7 1989.7,1662.4 1991.7,1666.7 1989.9,1673.3 1991.7,1680.0 1990.6,1684.6 1987.0,1688.3 1987.3,1693.3 1988.7,1700.0 1990.0,1706.7 1990.4,1713.3 1991.0,1720.0 1991.7,1726.7 1994.3,1732.0 1993.0,1737.8 1993.3,1743.3 1995.8,1748.6 1997.7,1754.0 1996.7,1760.0 1998.9,1765.2 2004.5,1768.0 2006.7,1773.3 2010.7,1778.8 2013.6,1785.0 2018.3,1790.0 2019.5,1794.5 2022.0,1798.7 2022.7,1803.3 2023.3,1809.2 2024.0,1815.0 2020.3,1818.2 2016.0,1820.8 2013.3,1825.0 2010.0,1830.2 2004.3,1832.6 2000.0,1836.7 1997.0,1841.2 1993.2,1844.9 1987.9,1847.1 1985.0,1851.7 1984.1,1857.5 1983.3,1863.3 1982.2,1870.0 1981.7,1876.7 1976.6,1880.9 1973.3,1886.7 1970.7,1891.9 1971.8,1897.8 1970.7,1903.3 1968.2,1909.0 1966.7,1915.0 1962.5,1920.0 1958.3,1925.0 1957.9,1931.1 1956.8,1937.2 1957.3,1943.3 1957.1,1950.0 1956.3,1956.7 1956.0,1963.3 1954.6,1967.8 1951.3,1971.6 1951.7,1976.7 1950.0,1983.2 1950.0,1990.0 1949.7,1995.4 1952.7,2000.0 1950.7,2006.7 1952.7,2013.3 1950.4,2017.9 1946.2,2020.9 1943.3,2025.0 1943.1,2030.6 1945.2,2035.5 1948.3,2040.0 1948.2,2045.5 1946.6,2050.5 1943.3,2055.0 1940.8,2060.1 1939.4,2065.9 1935.0,2070.0 1934.4,2074.8 1933.4,2079.5 1930.0,2083.3 1924.1,2085.4 1918.3,2087.8 1913.3,2091.7 1907.1,2092.3 1902.8,2097.5 1896.7,2098.3 1892.1,2102.2 1888.4,2106.8 1885.0,2111.7 1890.4,2115.7 1893.3,2121.7 1893.4,2128.7 1896.7,2135.0 1900.7,2139.6 1907.3,2139.5 1911.7,2143.3 1912.5,2148.8 1917.2,2152.0 1919.3,2156.7 1919.1,2162.2 1916.5,2167.6 1918.3,2173.3 1914.8,2177.1 1915.2,2182.9 1911.7,2186.7 1908.0,2190.2 1903.8,2193.3 1900.0,2196.7 1893.5,2199.0 1886.7,2200.0 1881.9,2202.2 1876.7,2201.7 1870.7,2201.6 1865.0,2200.0 1859.7,2195.8 1853.3,2193.3 1846.8,2192.4 1842.3,2187.6 1836.7,2185.0 1831.6,2183.6 1826.0,2183.7 1821.4,2180.7 1816.7,2178.3 1811.3,2176.1 1805.6,2174.9 1800.0,2173.3 1795.2,2173.8 1791.7,2170.7 1788.1,2176.0 1787.5,2182.1 1787.3,2188.3 1781.2,2191.3 1779.2,2198.5 1773.3,2201.7 1769.6,2206.8 1765.9,2212.0 1760.0,2215.0 1754.4,2219.2 1750.7,2225.0 1746.9,2219.6 1745.0,2213.3 1741.8,2209.5 1741.3,2204.6 1740.0,2200.0 1733.1,2199.0 1726.7,2201.7 1720.3,2201.4 1714.6,2204.9 1708.3,2205.0 1711.5,2211.3 1711.7,2218.3 1707.9,2221.6 1707.3,2226.7 1702.6,2226.9 1697.9,2226.9 1693.3,2228.3 1697.7,2232.5 1700.6,2237.4 1701.7,2243.3 1696.2,2246.6 1691.9,2251.4 1686.7,2255.0 1683.5,2260.3 1676.5,2261.3 1673.3,2266.7 1669.6,2269.6 1665.7,2272.4 1663.3,2276.7 1665.2,2283.3 1663.3,2290.0 1659.7,2294.4 1660.6,2300.8 1656.7,2305.0 1662.4,2306.8 1668.3,2305.3 1674.2,2305.0 1680.0,2306.0 1685.7,2306.2 1691.3,2307.9 1697.0,2305.0 1702.7,2304.4 1708.3,2306.0 1704.1,2308.7 1700.0,2311.7 1700.3,2317.9 1699.9,2324.1 1697.3,2330.0 1697.8,2336.9 1697.3,2343.6 1695.6,2350.2 1693.3,2356.7 1690.6,2360.6 1687.3,2363.9 1683.3,2366.7 1676.9,2367.2 1671.4,2370.9 1665.0,2371.7 1663.9,2377.2 1664.2,2383.1 1661.7,2388.3 1666.4,2392.9 1670.0,2398.3 1675.3,2399.0 1678.3,2403.3 1681.9,2399.9 1686.7,2398.3 1692.8,2399.9 1696.7,2405.0 1697.7,2410.4 1700.7,2415.0 1698.8,2420.8 1697.3,2426.7 1702.3,2430.8 1705.0,2436.7 1708.4,2438.2 1711.7,2440.0 1708.2,2444.4 1708.3,2450.0 1713.8,2453.9 1716.7,2460.0 1720.3,2464.5 1725.7,2466.4 1730.0,2470.0 1735.8,2470.3 1741.7,2470.7 1746.7,2475.7 1753.3,2478.3 1759.4,2480.7 1765.0,2484.0 1770.6,2484.7 1776.0,2486.2 1781.7,2486.0 1785.8,2490.2 1791.9,2489.8 1796.7,2492.7 1798.9,2497.2 1802.7,2500.4 1806.7,2503.3 1807.8,2509.1 1810.4,2514.3 1811.7,2520.0 1816.5,2518.0 1821.2,2515.4 1826.7,2516.0 1830.1,2511.1 1834.4,2507.2 1840.0,2505.0 1845.2,2504.9 1849.8,2501.7 1855.0,2501.7 1860.6,2499.4 1866.7,2500.0 1873.6,2499.0 1880.0,2501.7 1886.1,2502.1 1892.0,2501.1 1897.6,2499.2 1903.3,2497.3 1907.8,2501.4 1910.7,2506.7 1911.8,2512.2 1911.6,2517.8 1910.7,2523.3 1910.8,2530.0 1912.2,2536.7 1910.7,2543.3 1910.1,2550.0 1910.1,2556.8 1908.3,2563.3 1904.9,2568.4 1903.4,2573.9 1904.0,2580.0 1901.4,2585.5 1900.1,2591.6 1896.7,2596.7 1893.5,2603.0 1895.3,2610.1 1893.3,2616.7 1892.3,2622.4 1892.1,2628.4 1888.3,2633.3 1884.8,2637.1 1880.6,2640.1 1876.7,2643.3 1871.7,2646.7 1866.7,2650.0 1868.3,2654.9 1867.3,2660.0 1869.1,2664.5 1872.9,2668.1 1872.7,2673.3 1873.2,2680.1 1871.7,2686.7 1866.3,2690.1 1860.0,2690.0 1854.6,2692.1 1849.5,2695.3 1843.3,2695.0 1839.3,2699.4 1833.3,2700.0 1830.1,2705.0 1826.4,2709.7 1821.7,2713.3 1815.4,2715.2 1809.4,2717.7 1803.3,2720.0 1796.4,2720.6 1790.0,2723.3 1784.6,2727.0 1780.0,2731.7 1775.6,2726.8 1770.0,2723.3 1766.1,2720.1 1760.9,2720.5 1756.7,2718.3 1750.0,2719.1 1743.3,2716.2 1736.7,2718.3 1731.2,2718.1 1727.0,2714.1 1721.9,2712.7 1716.7,2711.7 1711.0,2711.9 1707.1,2706.9 1702.2,2705.0 1696.7,2705.0 1691.0,2703.2 1685.2,2701.5 1679.5,2699.9 1673.3,2700.0 1666.4,2700.5 1660.0,2697.7 1653.3,2696.7 1647.5,2693.3 1641.7,2690.0 1643.6,2683.4 1642.7,2676.7 1639.2,2672.8 1635.0,2669.9 1630.0,2668.3 1626.9,2664.7 1624.6,2660.4 1620.0,2658.3 1614.6,2656.4 1609.1,2655.3 1603.3,2655.0 1596.8,2657.0 1590.0,2656.7 1584.5,2659.5 1578.3,2658.3 1573.9,2656.1 1571.7,2651.7 1568.6,2646.9 1566.7,2641.7 1560.0,2639.8 1555.0,2635.0 1550.0,2633.5 1545.0,2634.7 1540.0,2635.0 1534.3,2632.8 1528.5,2631.1 1522.7,2629.2 1516.7,2628.3 1483.3,2620.0 1450.0,2611.7 1416.7,2603.3 1383.3,2595.0 1379.2,2597.5 1375.0,2600.0 1369.7,2598.6 1368.0,2592.8 1363.3,2590.7 1356.9,2588.3 1350.0,2588.0 1343.3,2586.7 1337.8,2584.3 1332.5,2581.6 1326.7,2580.0 1320.1,2579.3 1315.0,2575.0 1313.1,2569.5 1309.3,2565.0 1307.7,2559.3 1308.3,2553.3 1310.1,2547.3 1315.0,2543.3 1318.2,2539.2 1323.4,2537.4 1326.7,2533.3 1327.1,2528.4 1331.0,2524.8 1331.7,2520.0 1336.7,2516.2 1338.3,2510.0 1335.8,2504.2 1333.3,2498.3 1329.8,2494.2 1327.0,2489.5 1324.0,2485.0 1318.3,2486.8 1313.3,2490.0 1309.1,2484.9 1303.3,2481.7 1299.2,2477.4 1294.9,2473.4 1290.0,2470.0 1284.2,2469.5 1279.4,2467.0 1275.0,2463.3 1270.4,2460.8 1267.9,2455.9 1263.3,2453.3 1262.3,2447.8 1263.2,2442.2 1262.7,2436.7 1262.6,2431.4 1264.7,2427.0 1268.3,2423.3 1269.6,2418.4 1273.5,2414.8 1275.0,2410.0 1271.5,2404.5 1266.7,2400.0 1262.0,2397.2 1256.3,2396.7 1251.7,2393.7 1246.7,2391.7 1240.5,2390.2 1234.4,2388.5 1228.3,2386.7 1222.7,2383.4 1220.7,2376.6 1215.0,2373.3 1210.2,2370.4 1208.7,2364.1 1203.3,2361.7 1204.7,2355.4 1200.1,2349.6 1201.7,2343.3 1197.7,2340.1 1194.8,2335.6 1190.0,2333.3 1187.0,2327.4 1181.0,2324.6 1176.7,2320.0 1172.1,2314.7 1169.3,2308.3 1165.2,2305.2 1164.6,2299.3 1160.0,2296.7 1155.0,2295.6 1151.3,2291.9 1146.7,2290.0 1141.1,2287.9 1137.3,2283.3 1136.8,2276.7 1136.0,2270.0 1140.9,2268.1 1142.0,2262.2 1146.7,2260.0 1153.5,2260.6 1160.0,2258.3 1165.6,2255.0 1172.0,2253.1 1176.7,2248.3 1181.6,2246.3 1184.9,2241.8 1190.0,2240.0 1193.4,2233.8 1193.3,2226.7 1193.3,2221.7 1193.3,2216.7 1194.0,2210.7 1198.3,2206.7 1194.6,2201.7 1195.0,2195.6 1193.3,2190.0 1191.1,2183.4 1189.3,2176.7 1188.8,2171.6 1190.0,2166.7 1184.0,2163.7 1180.0,2158.3 1173.3,2158.5 1166.7,2157.3 1162.3,2155.0 1159.8,2150.1 1155.0,2148.3 1150.4,2145.7 1150.3,2139.9 1146.7,2136.7 1145.8,2131.1 1140.7,2127.3 1140.0,2121.7 1135.8,2117.5 1130.0,2116.7 1124.4,2116.3 1118.7,2116.0 1113.3,2118.3 1106.9,2120.9 1100.0,2121.7 1096.0,2123.4 1091.7,2124.0 1086.9,2120.7 1082.7,2116.7 1084.4,2109.8 1081.7,2103.3 1079.8,2098.7 1076.7,2094.7 1075.0,2090.0 1074.7,2084.4 1074.0,2078.9 1075.0,2073.3 1070.5,2069.9 1068.0,2065.4 1066.7,2060.0 1065.5,2054.8 1061.0,2051.6 1059.3,2046.7 1062.3,2042.1 1060.5,2036.4 1062.7,2031.7 1061.3,2026.7 1062.0,2021.7 1061.7,2016.7 1056.9,2014.4 1053.5,2010.4 1050.0,2006.7 1047.1,2001.8 1041.7,2000.0 1043.9,1994.6 1044.1,1989.0 1043.3,1983.3 1043.7,1976.6 1044.7,1969.9 1042.7,1963.3 1045.9,1957.0 1045.5,1950.0 1046.7,1943.3 1047.8,1937.5 1045.0,1931.6 1048.2,1925.9 1047.3,1920.0 1048.0,1913.3 1050.2,1906.8 1050.0,1900.0 1054.6,1896.3 1058.3,1891.7 1053.9,1889.7 1049.4,1887.7 1046.7,1883.3 1043.3,1878.5 1036.8,1878.0 1033.3,1873.3 1028.3,1872.3 1023.2,1871.8 1018.3,1870.0 1015.3,1866.0 1014.8,1860.6 1011.7,1856.7 1013.3,1849.8 1010.7,1843.3 1013.0,1838.8 1017.4,1836.0 1020.0,1831.7 1020.9,1827.2 1023.3,1823.3 1018.5,1819.8 1013.3,1816.7 1008.7,1814.9 1003.8,1813.5 1000.0,1810.0 994.3,1808.8 990.0,1805.0 989.6,1799.0 991.7,1793.3 997.2,1789.5 1000.0,1783.3 1001.1,1777.8 1001.0,1772.0 1003.3,1766.7 1007.6,1763.2 1010.7,1758.9 1011.7,1753.3 1013.1,1746.6 1015.0,1740.0 1013.4,1733.3 1013.6,1726.7 1015.0,1720.0 1010.4,1717.9 1007.8,1713.8 1005.0,1710.0 999.9,1708.0 996.5,1704.2 993.3,1700.0 991.4,1693.5 991.7,1686.7 988.6,1682.0 986.4,1676.8 981.7,1673.3 981.0,1668.0 978.3,1663.3 979.6,1658.8 981.3,1654.3 983.3,1650.0 984.8,1644.5 985.5,1638.8 987.3,1633.3 988.1,1627.6 988.4,1621.7 991.7,1616.7 992.4,1610.8 997.0,1606.1 996.7,1600.0 991.7,1598.9 988.3,1595.0 984.2,1597.5 980.0,1600.0 975.2,1603.5 970.1,1606.6 966.7,1611.7 961.4,1614.0 955.8,1614.9 950.0,1615.0 944.6,1618.5 938.3,1620.0 933.9,1617.0 930.0,1613.3 930.6,1606.6 931.7,1600.0 937.0,1597.2 939.3,1591.7 937.6,1585.9 933.3,1581.7 930.4,1577.6 924.3,1577.8 921.7,1573.3 917.0,1569.3 916.0,1563.3 919.6,1559.7 921.7,1555.0 927.1,1552.1 930.0,1546.7 930.4,1540.0 931.5,1533.4 931.7,1526.7 931.9,1521.2 935.7,1517.6 938.3,1513.3 940.8,1508.0 940.9,1502.4 940.0,1496.7 943.7,1491.7 946.4,1486.3 946.7,1480.0 946.9,1474.7 949.3,1470.0 943.0,1471.7 936.7,1470.0 930.1,1468.0 925.0,1463.3 922.9,1458.8 921.3,1454.1 918.3,1450.0 917.8,1444.7 914.8,1440.7 911.7,1436.7 916.3,1432.1 920.0,1426.7 925.7,1423.4 930.0,1418.3 930.9,1412.2 932.4,1406.2 933.3,1400.0 927.8,1395.6 926.6,1388.2 921.7,1383.3 918.4,1378.2 918.9,1371.5 915.0,1366.7 915.1,1361.0 913.0,1355.6 913.3,1350.0 912.3,1344.3 913.4,1338.8 915.0,1333.3 913.3,1328.6 911.3,1324.1 908.3,1320.0 910.2,1313.6 913.4,1307.9 918.3,1303.3 917.9,1297.8 917.6,1292.2 916.7,1286.7 914.0,1282.4 911.1,1278.3 910.0,1273.3 910.4,1267.8 907.8,1262.2 910.0,1256.7 910.8,1249.8 913.3,1243.3 911.8,1237.8 912.6,1231.8 909.3,1226.7 910.7,1221.2 912.6,1215.8 911.7,1210.0 914.9,1204.9 917.4,1199.4 921.7,1195.0 926.0,1190.7 932.8,1190.0 936.7,1185.0 940.7,1181.7 942.7,1176.7 946.7,1173.3 949.6,1167.4 955.6,1164.4 960.0,1160.0 965.3,1158.2 969.8,1154.7 974.5,1151.5 980.0,1150.0 984.9,1147.3 990.0,1144.8 993.3,1140.0 993.3,1134.2 993.5,1128.5 996.7,1123.3 996.5,1117.7 997.4,1112.2 998.3,1106.7 999.6,1100.1 999.3,1093.3 997.8,1087.4 999.0,1081.3 1004.9,1081.6 1010.5,1080.4 1016.0,1078.5 1021.6,1077.5 1018.7,1072.4 1020.2,1066.0 1016.6,1061.1 1020.8,1056.1 1027.0,1053.3 1030.0,1047.0 1035.5,1043.5 1041.7,1044.0 1046.9,1048.0 1053.1,1048.6 1050.7,1043.8 1051.8,1037.9 1048.4,1033.5 1046.8,1028.4 1052.6,1027.7 1058.2,1028.4 1063.8,1029.9 1069.4,1030.9 1069.7,1025.0 1070.6,1019.0 1068.2,1013.3 1069.4,1008.7 1073.2,1005.8 1079.9,1005.7 1086.7,1005.3 1093.3,1007.0 1098.4,1002.7 1098.7,995.3 1103.4,990.7 1097.5,988.0 1092.9,983.7 1089.6,978.1 1093.4,974.4 1099.0,972.7 1102.0,968.0 1105.7,962.7 1107.2,956.6 1108.4,950.4 1114.3,951.6 1119.8,950.3 1124.9,946.7 1130.3,945.0 1136.1,945.4 1132.8,939.8 1127.6,936.2 1122.3,932.8 1117.5,930.9 1116.1,925.6 1112.2,922.8 1107.4,918.1 1103.4,912.7 1101.0,907.2 1099.6,901.4 1105.1,899.1 1110.6,896.8 1116.7,896.7 1121.6,892.9 1127.5,892.4 1133.3,891.7 1138.5,887.2 1145.6,885.5 1150.0,880.0 1155.2,877.3 1161.5,879.8 1166.7,876.7 1171.9,873.8 1177.6,872.7 1183.3,871.7 1189.5,870.2 1195.1,867.4 1200.0,863.3 1205.4,860.3 1210.2,856.0 1216.7,855.0Z" fill="#33ff00"/>
<g shape-rendering="crispEdges">
<path d="M1327.5,491.7 1327.5,841.7 1345.0,841.7 1345.0,911.7 1327.5,911.7 1327.5,981.7 1310.0,981.7 1310.0,999.2 1292.5,999.2 1292.5,1034.2 1275.0,1034.2 1275.0,1051.7 1257.5,1051.7 1257.5,1069.2 1240.0,1069.2 1240.0,1104.2 1222.5,1104.2 1222.5,1121.7 1205.0,1121.7 1205.0,1156.7 1187.5,1156.7 1187.5,1174.2 1170.0,1174.2 1170.0,1226.7 1152.5,1226.7 1152.5,1384.2 1170.0,1384.2 1170.0,1419.2 1187.5,1419.2 1187.5,1454.2 1205.0,1454.2 1205.0,1489.2 1222.5,1489.2 1222.5,1524.2 1240.0,1524.2 1240.0,1541.7 1257.5,1541.7 1257.5,1559.2 1275.0,1559.2 1275.0,1576.7 1292.5,1576.7 1292.5,1594.2 1310.0,1594.2 1310.0,1611.7 1345.0,1611.7 1345.0,1629.2 1362.5,1629.2 1362.5,1646.7 1397.5,1646.7 1397.5,1664.2 1450.0,1664.2 1450.0,1681.7 1607.5,1681.7 1607.5,1664.2 1660.0,1664.2 1660.0,1646.7 1695.0,1646.7 1695.0,1629.2 1730.0,1629.2 1730.0,1611.7 1765.0,1611.7 1765.0,1594.2 1800.0,1594.2 1800.0,1576.7 1835.0,1576.7 1835.0,1559.2 1852.5,1559.2 1852.5,1541.7 1887.5,1541.7 1887.5,1524.2 1922.5,1524.2 1922.5,1506.7 1957.5,1506.7 1957.5,1489.2 2097.5,1489.2 2097.5,491.7Z" fill="#00ff33"/>
<path d="M907.5,894.2 1135.0,894.2 1135.0,911.7 1152.5,911.7 1152.5,964.2 1170.0,964.2 1170.0,1034.2 1152.5,1034.2 1152.5,1086.7 1135.0,1086.7 1135.0,1156.7 1117.5,1156.7 1117.5,1191.7 1100.0,1191.7 1100.0,1296.7 1082.5,1296.7 1082.5,1314.2 1065.0,1314.2 1065.0,1401.7 1047.5,1401.7 1047.5,1471.7 1030.0,1471.7 1030.0,1559.2 1012.5,1559.2 1012.5,1611.7 995.0,1611.7 995.0,1664.2 907.5,1664.2Z" fill="#66ff00"/>
<path d="M872.5,1086.7 1030.0,1086.7 1030.0,1156.7 1012.5,1156.7 1012.5,1209.2 995.0,1209.2 995.0,1226.7 977.5,1226.7 977.5,1244.2 960.0,1244.2 960.0,1261.7 942.5,1261.7 942.5,1279.2 925.0,1279.2 925.0,1296.7 872.5,1296.7Z" fill="#99ff00"/>
<path d="M1135.0,2084.2 1310.0,2084.2 1310.0,2189.2 1292.5,2189.2 1292.5,2311.7 1450.0,2311.7 1450.0,2329.2 1397.5,2329.2 1397.5,2346.7 1362.5,2346.7 1362.5,2364.2 1310.0,2364.2 1310.0,2381.7 1275.0,2381.7 1275.0,2399.2 1082.5,2399.2 1082.5,2101.7 1135.0,2101.7Z" fill="#66ff00"/>
<path d="M1992.5,1769.2 2045.0,1769.2 2045.0,1839.2 1992.5,1839.2Z" fill="#66ff00"/>
<path d="M1660.0,2259.2 1712.5,2259.2 1712.5,2346.7 1537.5,2346.7 1537.5,2311.7 1572.5,2311.7 1572.5,2294.2 1607.5,2294.2 1607.5,2276.7 1660.0,2276.7Z" fill="#00ff33"/>
<path d="M1870.0,2539.2 1957.5,2539.2 1957.5,2766.7 1555.0,2766.7 1555.0,2609.2 1642.5,2609.2 1642.5,2591.7 1712.5,2591.7 1712.5,2574.2 1800.0,2574.2 1800.0,2556.7 1870.0,2556.7Z" fill="#00ff33"/>
<path d="M1590.0,999.2 1590.0,1121.7 1607.5,1121.7 1607.5,1174.2 1625.0,1174.2 1625.0,1226.7 1642.5,1226.7 1642.5,1244.2 1660.0,1244.2 1660.0,1279.2 1677.5,1279.2 1677.5,1296.7 1695.0,1296.7 1695.0,1314.2 1730.0,1314.2 1730.0,1331.7 1747.5,1331.7 1747.5,1349.2 1782.5,1349.2 1782.5,1366.7 1852.5,1366.7 1852.5,1384.2 2097.5,1384.2 2097.5,999.2Z" fill="#00ff66"/>
<path d="M1292.5,1226.7 1362.5,1226.7 1362.5,1279.2 1345.0,1279.2 1345.0,1296.7 1292.5,1296.7 1292.5,1279.2 1275.0,1279.2 1275.0,1261.7 1292.5,1261.7Z" fill="#00ff66"/>
<path d="M1765.0,1069.2 1817.5,1069.2 1817.5,1104.2 1765.0,1104.2Z" fill="#00ff99"/>
<path d="M1817.5,1174.2 1957.5,1174.2 1957.5,1261.7 1870.0,1261.7 1870.0,1244.2 1852.5,1244.2 1852.5,1226.7 1835.0,1226.7 1835.0,1209.2 1817.5,1209.2Z" fill="#00ff99"/>
<path d="M1922.5,1279.2 1957.5,1279.2 1957.5,1296.7 1922.5,1296.7Z" fill="#00ff99"/>
</g>
<g fill="none" stroke="#00c5ff" stroke-width="7" stroke-linejoin="round" stroke-linecap="round">
<path d="M1083.3,1030.0 1083.0,1036.1 1085.2,1041.6 1088.3,1046.7 1084.6,1053.6 1080.0,1060.0 1086.7,1063.0 1091.7,1068.3 1099.2,1065.9 1106.7,1063.3 1110.4,1067.1 1113.3,1071.7 1108.7,1074.8 1106.7,1080.0 1114.5,1081.4 1121.7,1085.0 1126.7,1088.2 1131.4,1092.1 1136.7,1095.0 1141.3,1099.5 1147.8,1099.5 1153.3,1101.7 1152.9,1109.5 1150.0,1116.7 1155.6,1115.8 1160.3,1112.9 1165.0,1110.0 1171.9,1112.6 1175.9,1119.9 1183.3,1121.7 1176.7,1122.6 1172.3,1126.8 1168.3,1131.7 1162.9,1132.1 1160.0,1136.7"/>
<path d="M1165.0,1110.0 1170.5,1111.6 1173.3,1116.7 1168.9,1123.5 1168.3,1131.7"/>
<path d="M1138.3,1133.3 1143.3,1139.1 1149.6,1142.4 1158.3,1141.0 1163.3,1146.7 1171.2,1148.2 1175.7,1155.8 1182.7,1158.9 1189.5,1162.2 1196.7,1165.0 1201.6,1160.2 1208.1,1157.7 1213.3,1153.3 1220.0,1156.7 1222.8,1162.6 1226.2,1168.0 1230.0,1173.3 1236.3,1173.7 1241.3,1177.4 1246.7,1180.0 1252.3,1179.9 1257.6,1182.4 1263.3,1181.7 1268.2,1180.1 1268.3,1175.0 1272.0,1180.1 1278.2,1180.8 1283.3,1183.3 1283.7,1190.0 1283.3,1196.7 1288.8,1197.0 1293.3,1200.0 1298.7,1205.6 1301.5,1212.2 1301.7,1220.0 1299.4,1225.1 1296.7,1230.0 1300.9,1233.5 1303.3,1238.3 1304.9,1243.2 1305.0,1248.3 1310.0,1253.7 1317.1,1255.1 1323.3,1258.3 1329.3,1261.4 1336.2,1262.4 1341.7,1266.7 1343.7,1273.7 1340.0,1280.0 1345.4,1276.5 1351.7,1275.0 1359.2,1274.0 1366.1,1277.3 1373.3,1278.3 1369.8,1283.6 1371.2,1289.3 1371.7,1295.0 1377.5,1295.8 1381.7,1300.0 1381.9,1308.2 1386.7,1315.0 1393.6,1315.6 1400.2,1314.2 1406.7,1311.7 1401.3,1315.3 1400.0,1321.7 1406.1,1325.6 1413.3,1326.7 1419.1,1327.8 1424.4,1324.7 1430.0,1325.0 1435.8,1320.6 1436.7,1313.3 1442.5,1314.3 1446.7,1310.0 1449.3,1303.7 1455.0,1300.0"/>
<path d="M1283.3,1196.7 1277.0,1199.9 1270.0,1200.0 1264.9,1202.5 1260.4,1206.2 1255.0,1208.3 1254.9,1215.6 1255.4,1222.8 1256.7,1230.0 1255.5,1236.4 1250.0,1240.0 1256.2,1236.0 1263.7,1239.8 1270.0,1236.7 1276.3,1233.6 1282.9,1231.8 1290.7,1234.6 1296.7,1230.0"/>
<path d="M1270.0,1200.0 1276.1,1203.9 1280.0,1210.0 1276.3,1215.3 1270.0,1216.7 1276.8,1217.7 1283.3,1220.0 1289.0,1221.7 1293.8,1224.6 1296.7,1230.0"/>
<path d="M1386.7,1315.0 1385.4,1321.0 1384.1,1327.1 1385.0,1333.3 1390.4,1337.7 1396.1,1341.3 1403.3,1341.7 1409.6,1345.1 1415.9,1348.3 1424.2,1345.2 1430.0,1350.0 1435.5,1349.2 1441.4,1351.5 1446.7,1348.3"/>
<path d="M1400.0,1321.7 1395.3,1324.7 1393.3,1330.0"/>
<path d="M1453.3,1171.7 1459.3,1171.5 1465.0,1173.3"/>
<path d="M1600.0,1350.0 1606.3,1351.3 1609.9,1358.0 1616.7,1358.3 1623.0,1355.0 1630.2,1357.3 1636.7,1355.0 1642.9,1354.3 1648.2,1356.9 1653.3,1360.0 1658.3,1355.6 1656.2,1348.2 1660.0,1343.3 1666.0,1340.7 1671.0,1336.5 1676.7,1333.3 1683.3,1331.4 1690.0,1330.0"/>
<path d="M1686.7,1330.0 1693.4,1333.1 1700.0,1336.7 1707.0,1339.3 1713.3,1343.3 1718.5,1347.1 1720.0,1353.3 1723.1,1358.4 1730.7,1357.6 1733.3,1363.3 1736.7,1360.0 1740.0,1356.7 1746.1,1360.7 1753.3,1360.0 1761.1,1361.1 1766.7,1366.7 1759.9,1368.9 1753.3,1371.7 1761.1,1369.8 1767.5,1364.1 1775.6,1363.5 1783.3,1361.7 1787.6,1366.8 1793.3,1370.0 1799.3,1373.9 1805.0,1378.3 1808.6,1375.8 1810.0,1371.7 1814.6,1367.0 1820.4,1364.7 1826.7,1363.3 1832.8,1359.4 1840.0,1360.0 1846.7,1362.5 1853.3,1365.0 1859.1,1369.9 1866.7,1370.0 1873.6,1367.2 1880.0,1363.3 1884.0,1359.1 1885.0,1353.3 1892.3,1350.2 1900.0,1348.3 1903.9,1341.3 1905.0,1333.3 1910.2,1329.4 1916.7,1330.0 1919.0,1324.3 1923.3,1320.0 1926.5,1314.8 1929.0,1309.4 1930.0,1303.3 1931.7,1301.7"/>
<path d="M1905.0,1333.3 1904.6,1340.0 1905.4,1346.7 1905.0,1353.3 1906.2,1360.1 1908.3,1366.7 1914.9,1367.5 1920.0,1371.7 1921.9,1377.0 1926.7,1380.0 1933.3,1376.7 1929.4,1371.7 1923.3,1370.0 1930.0,1366.7 1936.6,1368.1 1943.5,1365.7 1950.0,1368.3 1957.5,1371.0 1965.0,1373.3"/>
<path d="M1916.7,1330.0 1917.5,1335.5 1917.4,1341.1 1918.3,1346.7 1915.0,1353.0 1916.7,1360.0 1920.1,1363.2 1923.3,1366.7"/>
<path d="M1653.3,1360.0 1651.3,1365.6 1648.0,1370.8 1646.7,1376.7 1644.0,1381.9 1645.4,1388.4 1641.7,1393.3 1649.0,1394.1 1653.3,1400.0 1658.3,1403.9 1663.2,1407.9 1666.7,1413.3 1668.3,1420.8 1673.3,1426.7 1666.8,1430.8 1661.7,1436.7 1659.4,1443.2 1658.0,1449.9 1656.7,1456.7 1654.1,1464.2 1655.4,1472.7 1651.7,1480.0 1650.3,1486.8 1650.3,1493.8 1646.7,1500.0 1645.4,1507.1 1651.5,1512.9 1650.0,1520.0 1646.5,1526.2 1649.1,1534.0 1645.0,1540.0 1642.2,1546.4 1642.6,1553.6 1640.0,1560.0 1634.7,1562.8 1628.1,1562.5 1623.3,1566.7 1616.0,1567.8 1610.0,1563.3 1604.3,1568.5 1595.7,1566.6 1590.0,1571.7 1583.3,1574.4 1577.6,1579.5 1570.0,1580.0 1562.7,1578.6 1556.7,1583.0"/>
<path d="M1646.7,1500.0 1648.9,1504.8 1648.3,1510.0 1650.7,1515.6 1655.0,1520.0 1652.3,1525.5 1651.7,1531.7 1645.3,1531.3 1640.0,1535.0 1641.9,1540.8 1640.0,1546.7 1643.2,1550.2 1643.3,1555.0 1641.5,1559.8 1636.7,1561.7 1630.2,1564.1 1623.3,1563.3 1616.3,1563.6 1610.0,1566.7 1604.1,1571.2 1596.7,1571.7 1590.0,1568.3 1584.9,1571.5 1580.0,1575.0 1576.0,1579.8 1570.0,1581.7 1563.3,1582.9 1556.7,1581.7"/>
<path d="M1810.7,2031.7 1812.2,2038.1 1807.9,2043.7 1808.3,2050.0 1808.5,2055.7 1808.0,2061.6 1811.7,2066.7 1813.0,2072.8 1813.1,2078.9 1811.7,2085.0 1812.9,2090.6 1816.7,2095.0 1822.5,2096.0 1828.3,2095.0 1831.8,2097.6 1833.3,2101.7 1837.8,2105.2 1843.3,2106.7 1838.8,2112.9 1833.3,2118.3 1838.3,2123.1 1845.0,2125.0 1847.3,2130.8 1845.0,2136.7 1850.3,2139.7 1853.3,2145.0 1857.3,2149.7 1863.3,2150.0 1868.0,2152.7 1871.7,2156.7 1868.4,2161.1 1863.3,2163.3 1864.2,2169.1 1868.3,2173.3 1874.1,2174.9 1880.0,2175.0 1884.7,2172.1 1890.0,2173.3 1891.4,2177.6 1893.3,2181.7 1891.7,2186.7"/>
<path d="M1810.7,2020.0 1810.7,2021.3"/>
<path d="M1648.3,2303.3 1648.6,2309.0 1647.3,2314.5 1646.7,2320.0 1647.7,2325.5 1648.1,2331.1 1648.3,2336.7 1652.8,2338.7 1656.7,2341.7 1660.3,2345.0 1665.0,2346.7 1666.4,2354.2 1665.0,2361.7"/>
<path d="M1511.7,2611.0 1517.5,2613.1 1523.3,2615.0 1527.2,2620.3 1533.3,2622.7 1538.3,2627.3 1545.0,2626.7"/>
<path d="M1095.0,2108.3 1100.0,2109.3"/>
<path d="M1110.0,2110.7 1116.7,2111.3"/>
<path d="M1485.0,1110.0 1489.2,1116.0 1490.0,1123.3 1489.1,1130.0 1486.4,1136.4 1486.7,1143.3 1482.4,1147.7 1479.0,1152.7 1477.0,1158.5 1473.3,1163.3 1469.2,1168.2 1467.6,1174.4 1465.0,1180.0 1466.0,1186.0 1463.0,1191.2 1461.7,1196.7 1461.6,1203.1 1455.1,1206.9 1455.0,1213.3 1453.8,1220.4 1458.1,1226.5 1458.3,1233.3 1457.6,1240.2 1453.6,1246.3 1453.3,1253.3 1453.2,1260.4 1451.6,1267.1 1448.3,1273.3 1451.6,1278.4 1452.4,1284.2 1453.3,1290.0 1453.5,1295.9 1455.0,1301.7 1449.0,1305.1 1446.7,1311.7"/>
<path d="M1430.0,1350.0 1435.6,1349.9 1441.0,1347.3 1446.7,1348.3 1454.3,1351.3 1462.1,1351.6 1470.0,1350.0 1472.7,1354.9 1475.0,1360.0 1481.0,1361.9 1487.5,1360.8 1493.3,1363.3 1499.5,1359.5 1506.7,1358.3 1509.1,1352.7 1514.2,1348.9 1516.7,1343.3 1521.1,1339.7 1527.7,1341.1 1531.7,1336.7 1538.0,1338.8 1542.6,1343.2 1546.7,1348.3 1552.7,1344.1 1560.4,1345.2 1566.7,1341.7 1570.5,1344.5 1573.3,1348.3 1580.0,1348.7 1586.7,1348.5 1593.3,1350.0 1597.3,1345.4 1599.6,1339.7 1603.3,1335.0 1609.3,1330.3 1616.7,1328.3 1619.7,1323.7 1622.5,1318.8 1626.7,1315.0 1631.2,1309.9 1638.6,1309.8 1643.3,1305.0 1647.5,1299.6 1650.0,1293.3"/>
<path d="M1650.0,1293.3 1646.6,1288.9 1646.7,1283.3 1652.2,1284.5 1657.9,1282.7 1663.3,1285.0 1662.2,1291.1 1662.8,1297.2 1663.3,1303.3 1668.7,1306.2 1673.3,1310.0 1680.1,1308.9 1686.8,1307.0 1693.3,1305.0 1696.2,1299.3 1702.3,1297.3 1706.7,1293.3 1711.3,1298.0 1716.7,1301.7 1721.7,1295.9 1726.7,1290.0 1733.8,1290.2 1740.0,1286.7 1747.5,1289.5 1755.7,1289.4 1763.3,1291.7 1766.9,1296.1 1769.5,1300.9 1770.0,1306.7 1775.9,1311.4 1783.3,1313.3 1789.3,1313.5 1795.0,1311.7 1794.7,1304.1 1793.3,1296.7 1800.0,1296.9 1806.7,1297.8 1813.3,1298.3 1820.7,1296.1 1828.3,1296.7 1831.0,1291.7 1833.3,1286.7 1839.3,1286.0 1844.3,1289.5 1850.0,1290.0 1853.9,1284.8 1857.4,1279.3 1860.0,1273.3 1867.3,1275.5 1873.3,1280.0 1876.1,1273.1 1881.5,1268.3 1886.7,1263.3 1888.6,1269.8 1892.2,1275.6 1895.0,1281.7 1899.8,1283.8 1905.0,1283.3 1907.8,1288.2 1910.0,1293.3 1915.0,1295.0"/>
<path d="M1726.7,1290.0 1722.6,1295.1 1723.3,1301.7 1728.5,1306.5 1732.5,1312.5 1738.3,1316.7 1742.5,1314.2 1745.0,1310.0 1738.2,1306.1 1733.3,1300.0"/>
<path d="M1610.0,1566.7 1615.0,1561.7 1620.4,1563.2 1625.0,1560.0"/>
<path d="M1648.3,2301.7 1645.6,2306.3 1646.7,2311.7"/>
</g>
<g fill="none" stroke="#fa5520" stroke-opacity=".5" stroke-width="2" stroke-linejoin="round">
<path d="M1133.3,965.0 1138.4,962.7 1143.3,960.0 1148.1,965.3 1153.2,970.4 1156.7,976.7 1154.8,983.4 1151.5,989.8 1150.0,996.7 1146.8,1002.3 1143.2,1007.7 1140.0,1013.3 1141.9,1021.0 1142.4,1028.9 1143.3,1036.7 1143.6,1043.3 1144.2,1050.0 1143.3,1056.7 1147.2,1063.1 1150.9,1069.6 1153.3,1076.7 1160.7,1078.8 1168.3,1079.2 1175.8,1080.5 1183.3,1081.7 1190.1,1081.1 1196.8,1079.6 1203.2,1077.4 1210.0,1076.7 1217.6,1078.7 1225.5,1079.0 1233.3,1080.0 1240.5,1077.6 1246.4,1072.8 1253.2,1069.7 1260.0,1066.7 1267.3,1061.3 1275.9,1058.4 1283.3,1053.3 1290.1,1050.3 1296.7,1046.7 1304.2,1047.4 1311.7,1046.4 1319.2,1047.7 1326.7,1046.7 1330.6,1053.7 1334.9,1060.4 1340.0,1066.7 1347.2,1069.0 1353.0,1074.0 1360.0,1076.7 1362.4,1083.8 1366.2,1090.2 1370.0,1096.7 1371.8,1105.0 1373.3,1113.3 1381.0,1116.9 1389.1,1119.5 1396.7,1123.3 1404.8,1124.6 1412.4,1128.2 1420.6,1129.7 1428.4,1132.2 1436.7,1133.3 1444.5,1133.0 1452.2,1133.7 1460.0,1134.9 1467.8,1133.6 1475.6,1134.8 1483.3,1135.0"/>
<path d="M1483.3,1135.0 1485.3,1128.8 1488.5,1123.0 1490.0,1116.7 1494.4,1111.7 1498.8,1106.6 1503.3,1101.7 1497.8,1095.4 1493.3,1088.3 1490.4,1082.3 1486.7,1076.7 1486.4,1070.0 1487.3,1063.3"/>
<path d="M1445.7,1311.7 1444.6,1320.4 1445.6,1329.2 1445.5,1337.9 1445.7,1346.7"/>
<path d="M1446.7,1348.3 1440.3,1351.1 1433.1,1350.6 1426.7,1353.3 1421.5,1357.3 1414.9,1359.0 1410.0,1363.3 1403.9,1365.7 1399.2,1370.5 1393.3,1373.3 1391.6,1381.7 1390.0,1390.0 1383.5,1395.7 1376.8,1401.3 1370.0,1406.7 1362.9,1410.5 1356.2,1414.9 1350.0,1420.0 1342.8,1424.7 1334.9,1428.2 1327.3,1432.1 1320.0,1436.7 1316.5,1443.2 1313.3,1450.0 1318.6,1457.3 1322.4,1465.4 1326.7,1473.3"/>
<path d="M1326.7,1466.7 1327.5,1473.3 1326.8,1480.0 1326.7,1486.7 1324.7,1495.5 1324.6,1504.5 1323.3,1513.3 1316.9,1516.4 1309.9,1518.0 1303.5,1521.3 1296.7,1523.3 1289.9,1529.0 1283.3,1535.0 1276.8,1537.3 1270.0,1538.3 1266.1,1545.3 1264.3,1553.2 1260.0,1560.0 1258.0,1568.5 1254.0,1576.4 1253.5,1585.3 1250.0,1593.3 1243.5,1597.2 1237.0,1601.3 1230.1,1604.6 1223.3,1607.9 1216.7,1611.7 1208.8,1613.6 1201.3,1616.5 1194.3,1620.8 1186.7,1623.3 1183.3,1630.9 1181.2,1638.9 1178.3,1646.7 1180.6,1653.8 1181.5,1661.2 1182.8,1668.6 1183.9,1676.0 1185.0,1683.3 1182.8,1691.2 1182.3,1699.2 1183.0,1707.5 1180.8,1715.3 1180.0,1723.3 1171.8,1726.3 1163.3,1728.3 1162.2,1736.0 1160.0,1743.3 1161.7,1750.3 1165.0,1756.7 1159.2,1760.9 1152.2,1762.8 1145.8,1765.8 1140.0,1770.0 1134.9,1775.1 1128.6,1778.7 1122.1,1781.9 1116.7,1786.7 1110.0,1787.8 1103.3,1786.7 1103.7,1793.3 1103.3,1800.0 1101.7,1806.9 1098.0,1813.0 1096.7,1820.0 1091.8,1827.1 1087.8,1834.7 1084.6,1842.8 1080.0,1850.0"/>
<path d="M1320.0,1436.7 1311.4,1434.0 1303.3,1430.0 1296.7,1428.2 1290.1,1426.4 1283.3,1425.0 1278.5,1418.6 1273.8,1412.1 1270.0,1405.0 1266.1,1399.6 1261.3,1394.8 1256.7,1390.0 1253.6,1395.4 1249.3,1400.0"/>
<path d="M956.7,1468.3 965.5,1467.6 974.4,1467.3 983.3,1466.7 990.1,1466.5 996.6,1468.4 1003.3,1468.3 1007.2,1472.9 1009.6,1478.6 1013.3,1483.3 1020.1,1486.1 1026.7,1489.3 1035.0,1489.3 1043.3,1488.3 1046.1,1493.7 1050.9,1497.7 1053.3,1503.3 1058.4,1507.1 1064.9,1507.9 1070.0,1511.7 1076.7,1512.6 1083.3,1511.7 1089.5,1506.6 1096.7,1503.3 1105.2,1502.5 1113.3,1500.0 1120.1,1497.7 1126.7,1495.0 1133.3,1496.1 1140.0,1496.7 1145.4,1499.8 1150.6,1503.2 1156.7,1505.0 1163.4,1506.5 1169.8,1509.3 1176.7,1510.0 1185.0,1508.9 1193.3,1510.0 1197.9,1503.0 1203.3,1496.7 1206.1,1490.1 1208.3,1483.3 1209.7,1476.7 1211.3,1470.1 1211.7,1463.3 1217.1,1459.3 1221.3,1454.1 1226.7,1450.0 1229.6,1441.5 1233.3,1433.3 1238.1,1426.5 1243.3,1420.0 1244.4,1413.2 1247.6,1406.9 1248.3,1400.0"/>
<path d="M1390.0,1390.0 1391.9,1396.8 1394.9,1403.2 1396.7,1410.0 1401.9,1415.9 1407.7,1421.1 1413.3,1426.7 1411.3,1433.4 1410.0,1440.4 1406.7,1446.7 1407.5,1453.3 1407.5,1460.0 1408.3,1466.7 1414.8,1469.4 1420.7,1473.0 1426.7,1476.7 1431.8,1471.1 1438.2,1467.1 1443.3,1461.7 1451.4,1458.3 1459.2,1454.6 1466.7,1450.0 1473.8,1447.0 1480.3,1442.7 1486.7,1438.3 1492.8,1434.0 1497.0,1427.5 1503.3,1423.3 1510.2,1426.3 1516.7,1430.0 1525.1,1431.1 1533.3,1433.3 1535.6,1438.1 1536.7,1443.3 1543.4,1444.8 1550.0,1446.7 1556.7,1448.3 1560.4,1454.9 1565.9,1460.3 1570.0,1466.7 1572.0,1474.9 1573.3,1483.3 1567.1,1489.4 1563.1,1497.4 1556.7,1503.3"/>
<path d="M1023.3,1845.0 1030.0,1844.2 1036.7,1846.1 1043.3,1845.0 1050.2,1848.9 1056.7,1853.3 1063.2,1855.4 1070.0,1856.0 1074.7,1852.5 1080.0,1850.0 1087.5,1847.4 1095.3,1845.8 1102.8,1843.4 1110.0,1840.0 1116.8,1839.6 1123.3,1837.3 1132.2,1837.5 1141.1,1837.2 1150.0,1838.3 1158.3,1840.6 1166.9,1841.5 1175.3,1843.5 1183.3,1846.7 1192.1,1847.7 1200.6,1850.3 1209.2,1852.1 1218.0,1853.3 1226.7,1855.0 1231.5,1858.6 1236.7,1861.7 1244.2,1863.6 1251.4,1866.8 1259.2,1867.8 1266.7,1870.0 1271.0,1876.7 1276.1,1883.0 1280.0,1890.0 1283.5,1894.9 1286.7,1900.0"/>
<path d="M1791.7,1500.0 1795.1,1506.3 1796.7,1513.3 1794.3,1519.0 1790.0,1523.3 1782.7,1526.5 1774.7,1527.4 1767.7,1531.5 1760.0,1533.3 1756.7,1540.0 1759.5,1545.8 1762.8,1551.4 1766.7,1556.7 1770.6,1562.2 1775.1,1567.3 1778.3,1573.3 1776.7,1581.7 1769.7,1583.5 1763.3,1586.7 1758.2,1592.7 1755.0,1600.0 1754.4,1608.4 1753.3,1616.7 1754.1,1625.0 1755.0,1633.3 1763.3,1635.0 1767.4,1638.6 1770.0,1643.3 1773.5,1651.3 1777.5,1659.0 1781.7,1666.7 1781.7,1673.0 1778.8,1678.8 1778.3,1685.0 1774.0,1689.0 1770.0,1693.3 1769.9,1700.2 1768.9,1706.9 1766.7,1713.3 1764.2,1717.5 1760.0,1720.0"/>
<path d="M1615.0,1733.3 1620.8,1734.3 1626.7,1735.0 1633.1,1731.8 1640.0,1730.0 1646.0,1735.7 1651.5,1741.9 1656.7,1748.3 1665.0,1750.2 1673.3,1751.7 1680.4,1749.1 1686.7,1745.0 1693.4,1742.3 1700.3,1740.1 1706.7,1736.7 1713.2,1733.5 1719.9,1730.9 1726.7,1728.3 1733.5,1727.2 1740.2,1725.8 1746.7,1723.3 1753.1,1720.9 1760.0,1720.0 1766.6,1718.7 1773.3,1718.3 1778.7,1720.1 1783.3,1723.3 1790.9,1723.5 1798.3,1725.3 1805.9,1725.0 1813.3,1726.7 1820.2,1724.9 1826.9,1723.0 1833.3,1720.0 1840.3,1718.8 1846.8,1715.9 1853.3,1713.3 1858.4,1708.4 1863.3,1703.3 1863.7,1695.8 1865.0,1688.3 1865.4,1682.5 1865.0,1676.7 1872.1,1673.6 1879.3,1670.6 1886.7,1668.3 1893.9,1665.5 1900.8,1661.9 1908.3,1660.0 1916.0,1662.4 1923.2,1665.8 1930.0,1670.0 1937.5,1674.5 1945.1,1678.7 1953.3,1681.7 1960.0,1681.6 1966.7,1682.3 1973.3,1681.7 1980.0,1680.0"/>
<path d="M1553.3,1500.0 1553.4,1507.6 1555.0,1515.0 1551.6,1521.4 1548.1,1527.8 1543.3,1533.3 1549.3,1538.2 1555.0,1543.3 1563.3,1543.3 1570.0,1538.3 1575.0,1531.7 1580.8,1530.8 1586.7,1531.7 1590.1,1528.4 1593.3,1525.0 1597.7,1530.6 1602.7,1535.7 1606.7,1541.7 1615.0,1541.7 1617.6,1547.6 1619.9,1553.7 1621.7,1560.0 1615.6,1562.0 1610.0,1565.0 1608.1,1569.9 1606.7,1575.0 1598.6,1578.4 1590.9,1582.4 1583.3,1586.7 1577.8,1590.4 1571.7,1593.3 1569.2,1598.1 1568.3,1603.3 1562.7,1606.5 1557.1,1609.8 1551.7,1613.3 1550.6,1621.8 1548.3,1630.0 1546.3,1636.8 1543.3,1643.3 1541.8,1649.9 1541.6,1656.6 1541.7,1663.3 1544.7,1669.5 1549.9,1674.1 1553.3,1680.0 1558.9,1683.5 1563.3,1688.3 1565.0,1696.7 1569.4,1701.4 1574.3,1705.4 1580.0,1708.3 1588.1,1711.5 1596.7,1713.3 1601.2,1718.4 1605.7,1723.5 1611.1,1727.7 1615.0,1733.3 1615.0,1740.0 1619.0,1747.2 1621.7,1755.0 1619.9,1762.1 1620.5,1769.6 1618.3,1776.7 1621.8,1784.9 1625.0,1793.3 1630.5,1798.8 1636.7,1803.3 1635.6,1811.6 1635.0,1820.0 1640.8,1824.2 1645.0,1830.0 1642.5,1837.1 1638.3,1843.3 1631.0,1846.5 1624.2,1850.7 1616.7,1853.3 1616.2,1860.0 1616.7,1866.7 1613.4,1873.4 1610.0,1880.0 1606.5,1883.1 1603.3,1886.7 1596.5,1885.5 1589.9,1883.8 1583.3,1881.7 1579.9,1886.2 1578.3,1891.7 1574.9,1898.9 1573.3,1906.7 1566.7,1910.0 1560.0,1909.3 1553.3,1910.8 1546.7,1910.7 1537.8,1912.0 1528.8,1911.7 1520.0,1913.3 1513.2,1913.8 1506.6,1915.4 1500.0,1916.7"/>
<path d="M1792.7,1506.7 1799.7,1501.1 1806.6,1495.3 1812.4,1488.3 1820.0,1483.3 1828.2,1481.7 1836.8,1482.8 1844.9,1480.1 1853.3,1480.0 1861.1,1479.9 1868.9,1478.7 1876.7,1478.3 1884.2,1481.1 1892.1,1482.1 1900.0,1483.3 1906.8,1486.3 1913.7,1489.3 1920.2,1492.9 1926.3,1497.4 1933.3,1500.0 1940.3,1499.5 1946.8,1497.3 1953.1,1494.2 1960.0,1493.3 1965.9,1493.0 1971.7,1491.7"/>
<path d="M1500.0,2043.3 1506.7,2043.5 1513.3,2044.5 1520.0,2043.3 1527.8,2043.2 1535.6,2044.2 1543.3,2043.3 1551.7,2042.6 1560.0,2042.5 1568.3,2043.3 1568.5,2037.2 1568.3,2031.0 1570.0,2025.0 1578.4,2028.2 1586.7,2031.7 1587.7,2036.6 1588.3,2041.7 1594.1,2044.3 1600.0,2046.7 1600.0,2053.3 1605.3,2058.3 1611.7,2061.7 1616.6,2055.0 1622.3,2049.0 1628.3,2043.3 1634.4,2043.9 1640.5,2044.8 1646.7,2045.0 1653.3,2043.7 1660.0,2043.9 1666.7,2043.3 1673.4,2043.2 1680.0,2044.1 1686.7,2045.0 1687.4,2053.3 1686.7,2061.7 1693.5,2063.4 1700.0,2066.1 1706.7,2068.3 1711.3,2073.4 1716.3,2077.9 1721.0,2082.8 1726.7,2086.7 1733.1,2092.6 1738.6,2099.4 1743.3,2106.7 1747.8,2113.3 1752.8,2119.6 1756.7,2126.7 1758.9,2134.9 1763.3,2142.2 1766.7,2150.0 1769.0,2157.1 1772.6,2163.7 1776.7,2170.0 1780.0,2176.7"/>
<path d="M1600.0,2300.0 1606.7,2301.7 1613.7,2305.2 1620.0,2310.0 1627.1,2312.5 1633.3,2316.7 1639.7,2313.8 1646.7,2313.3"/>
<path d="M1286.7,1900.0 1291.3,1904.3 1295.7,1908.7 1300.0,1913.3 1307.4,1918.0 1313.2,1924.6 1320.0,1930.0 1328.3,1933.5 1336.0,1938.2 1343.3,1943.3 1349.3,1947.3 1354.2,1952.6 1360.0,1956.7 1367.3,1960.9 1373.3,1966.7 1380.3,1967.2 1386.7,1970.0 1389.1,1962.9 1393.3,1956.7 1399.7,1952.7 1406.7,1950.0 1413.3,1946.7 1420.5,1943.8 1426.2,1938.3 1433.5,1935.7 1440.0,1931.7 1446.9,1930.3 1453.3,1927.3 1459.9,1925.2 1466.7,1923.3 1474.8,1920.6 1483.3,1919.9 1491.7,1918.7 1500.0,1916.7 1508.4,1916.0 1516.5,1913.1 1525.1,1913.7 1533.3,1911.7 1540.7,1911.4 1548.0,1910.1 1555.3,1910.0 1562.6,1909.2 1570.0,1910.0 1572.0,1904.8 1575.0,1900.0"/>
<path d="M1440.0,1931.7 1445.2,1931.4 1450.0,1933.3 1454.2,1939.1 1460.0,1943.3 1466.2,1946.3 1471.4,1950.8 1476.7,1955.0 1482.7,1954.0 1488.3,1951.7 1485.1,1957.2 1483.3,1963.3 1478.2,1967.8 1472.2,1971.1 1466.7,1975.0 1463.1,1980.8 1457.7,1985.0 1453.3,1990.0 1453.9,1997.8 1453.4,2005.6 1455.0,2013.3 1460.9,2012.8 1466.7,2011.7 1472.1,2006.2 1478.3,2001.7 1476.7,2007.4 1476.7,2013.3 1482.3,2019.5 1486.7,2026.7 1490.4,2032.0 1492.5,2038.3 1496.7,2043.3 1501.0,2050.1 1505.2,2056.9 1510.0,2063.3 1503.2,2066.3 1496.7,2070.0 1490.9,2076.7 1485.0,2083.3 1485.2,2091.1 1484.6,2098.9 1485.0,2106.7 1480.0,2114.1 1473.3,2120.0 1469.0,2127.2 1463.3,2133.3 1460.0,2140.0 1453.3,2141.5 1446.7,2143.3 1446.7,2148.3 1440.0,2149.4 1433.3,2150.0 1430.3,2155.8 1426.6,2161.1 1423.3,2166.7 1418.3,2172.8 1415.1,2180.1 1410.6,2186.5 1406.7,2193.3 1410.0,2201.7 1402.5,2202.1 1395.0,2203.3 1393.2,2209.0 1393.3,2215.0 1389.4,2220.5 1386.7,2226.7 1393.3,2228.3 1399.9,2224.5 1406.4,2220.4 1413.4,2217.2 1420.0,2213.3 1426.6,2209.9 1433.7,2207.5 1440.0,2203.3 1446.6,2201.4 1453.3,2200.0 1453.3,2208.4 1455.0,2216.7 1453.9,2221.6 1453.3,2226.7 1459.8,2230.4 1467.1,2232.4 1473.3,2236.7 1480.5,2240.3 1486.2,2246.2 1493.3,2250.0 1498.5,2253.7 1502.6,2258.5 1506.7,2263.3 1511.6,2268.6 1518.2,2271.6 1523.3,2276.7 1526.8,2282.4 1530.0,2288.3 1538.5,2289.1 1546.7,2291.7 1553.4,2291.9 1560.0,2293.3 1565.2,2296.9 1570.7,2299.6 1576.7,2301.7 1584.4,2300.3 1592.2,2300.5 1600.0,2300.0"/>
<path d="M1496.7,2043.3 1503.3,2043.8 1510.0,2044.9 1516.7,2045.0 1525.0,2043.9 1533.3,2043.3 1540.1,2043.2 1546.7,2044.6 1553.3,2045.0 1560.9,2044.7 1568.3,2043.3 1568.7,2037.2 1568.9,2031.1 1570.0,2025.0 1578.5,2027.1 1586.7,2030.0 1591.6,2035.2 1595.6,2041.1 1600.0,2046.7"/>
<path d="M1206.7,2218.3 1211.7,2218.0 1216.7,2216.7 1219.1,2210.3 1223.3,2205.0 1228.3,2211.7 1234.4,2210.9 1240.5,2210.4 1246.7,2210.0 1254.4,2210.8 1262.2,2211.5 1270.0,2211.7 1276.6,2209.8 1283.5,2208.8 1290.0,2206.7 1296.6,2203.6 1303.6,2201.6 1310.0,2198.3 1316.5,2196.0 1323.3,2195.0 1330.1,2199.0 1336.7,2203.3 1343.9,2208.6 1350.0,2215.0 1357.9,2215.6 1365.6,2214.7 1373.3,2213.3 1379.8,2211.3 1386.7,2211.6 1393.3,2210.0 1395.0,2203.3"/>
<path d="M1560.0,2293.3 1557.4,2302.0 1553.3,2310.0 1549.1,2317.4 1546.0,2325.3 1543.3,2333.3 1539.9,2341.1 1536.4,2348.8 1533.3,2356.7 1528.2,2362.3 1523.3,2368.3 1515.1,2365.5 1506.7,2363.3 1498.3,2363.2 1490.0,2361.7 1483.1,2363.6 1476.7,2366.7 1474.1,2372.7 1469.6,2377.6 1466.7,2383.3 1459.6,2384.9 1453.3,2388.3 1445.3,2389.5 1437.6,2392.1 1430.0,2395.0 1422.3,2392.6 1414.2,2391.3 1406.7,2388.3 1400.2,2385.6 1393.1,2384.6 1386.7,2381.7 1380.2,2379.5 1373.4,2379.2 1366.7,2378.3 1361.8,2373.6 1355.9,2370.0 1351.6,2364.6 1346.7,2360.0 1341.8,2354.7 1335.6,2351.1 1330.0,2346.7 1324.8,2341.9 1320.0,2336.7 1313.5,2341.3 1306.1,2344.7 1300.0,2350.0 1295.7,2354.7 1290.0,2357.8 1285.0,2361.7 1285.0,2369.1 1287.3,2376.1 1288.3,2383.3 1284.8,2390.4 1280.0,2396.7"/>
<path d="M1331.7,796.7 1340.0,796.0 1348.4,795.9 1356.7,795.0 1361.0,800.7 1365.0,806.7 1361.2,813.6 1356.7,820.0 1350.1,824.1 1343.8,828.6 1336.7,831.7 1343.3,833.4 1350.0,835.0 1355.9,834.8 1361.7,833.3 1364.2,841.0 1365.8,849.0 1368.3,856.7 1365.7,865.0 1363.3,873.3 1368.9,876.6 1374.8,879.3 1380.0,883.3 1388.3,883.3 1396.7,883.3 1401.7,888.3 1406.7,893.3 1415.6,892.2 1424.4,894.2 1433.3,893.3 1440.2,891.8 1446.8,889.5 1453.2,886.5 1460.0,885.0 1465.8,886.1 1471.7,886.7"/>
<path d="M1485.0,1110.0 1489.2,1116.0 1490.0,1123.3 1489.1,1130.0 1486.4,1136.4 1486.7,1143.3 1482.4,1147.7 1479.0,1152.7 1477.0,1158.5 1473.3,1163.3 1469.2,1168.2 1467.6,1174.4 1465.0,1180.0 1466.0,1186.0 1463.0,1191.2 1461.7,1196.7 1461.6,1203.1 1455.1,1206.9 1455.0,1213.3 1453.8,1220.4 1458.1,1226.5 1458.3,1233.3 1457.6,1240.2 1453.6,1246.3 1453.3,1253.3 1453.2,1260.4 1451.6,1267.1 1448.3,1273.3 1451.6,1278.4 1452.4,1284.2 1453.3,1290.0 1453.5,1295.9 1455.0,1301.7 1449.0,1305.1 1446.7,1311.7"/>
<path d="M1430.0,1350.0 1435.6,1349.9 1441.0,1347.3 1446.7,1348.3 1454.3,1351.3 1462.1,1351.6 1470.0,1350.0 1472.7,1354.9 1475.0,1360.0 1481.0,1361.9 1487.5,1360.8 1493.3,1363.3 1499.5,1359.5 1506.7,1358.3 1509.1,1352.7 1514.2,1348.9 1516.7,1343.3 1521.1,1339.7 1527.7,1341.1 1531.7,1336.7 1538.0,1338.8 1542.6,1343.2 1546.7,1348.3 1552.7,1344.1 1560.4,1345.2 1566.7,1341.7 1570.5,1344.5 1573.3,1348.3 1580.0,1348.7 1586.7,1348.5 1593.3,1350.0 1597.3,1345.4 1599.6,1339.7 1603.3,1335.0 1609.3,1330.3 1616.7,1328.3 1619.7,1323.7 1622.5,1318.8 1626.7,1315.0 1631.2,1309.9 1638.6,1309.8 1643.3,1305.0 1647.5,1299.6 1650.0,1293.3"/>
<path d="M1650.0,1293.3 1646.6,1288.9 1646.7,1283.3 1652.2,1284.5 1657.9,1282.7 1663.3,1285.0 1662.2,1291.1 1662.8,1297.2 1663.3,1303.3 1668.7,1306.2 1673.3,1310.0 1680.1,1308.9 1686.8,1307.0 1693.3,1305.0 1696.2,1299.3 1702.3,1297.3 1706.7,1293.3 1711.3,1298.0 1716.7,1301.7 1721.7,1295.9 1726.7,1290.0 1733.8,1290.2 1740.0,1286.7 1747.5,1289.5 1755.7,1289.4 1763.3,1291.7 1766.9,1296.1 1769.5,1300.9 1770.0,1306.7 1775.9,1311.4 1783.3,1313.3 1789.3,1313.5 1795.0,1311.7 1794.7,1304.1 1793.3,1296.7 1800.0,1296.9 1806.7,1297.8 1813.3,1298.3 1820.7,1296.1 1828.3,1296.7 1831.0,1291.7 1833.3,1286.7 1839.3,1286.0 1844.3,1289.5 1850.0,1290.0 1853.9,1284.8 1857.4,1279.3 1860.0,1273.3 1867.3,1275.5 1873.3,1280.0 1876.1,1273.1 1881.5,1268.3 1886.7,1263.3 1888.6,1269.8 1892.2,1275.6 1895.0,1281.7 1899.8,1283.8 1905.0,1283.3 1907.8,1288.2 1910.0,1293.3 1915.0,1295.0"/>
<path d="M1726.7,1290.0 1722.6,1295.1 1723.3,1301.7 1728.5,1306.5 1732.5,1312.5 1738.3,1316.7 1742.5,1314.2 1745.0,1310.0 1738.2,1306.1 1733.3,1300.0"/>
<path d="M1610.0,1566.7 1615.0,1561.7 1620.4,1563.2 1625.0,1560.0"/>
<path d="M1648.3,2301.7 1645.6,2306.3 1646.7,2311.7"/>
</g>
</g>
<path d="M1218.3,848.3 1218.4,841.6 1220.0,835.0 1223.0,829.0 1228.3,825.0 1232.7,820.9 1236.0,816.0 1240.9,818.2 1243.0,823.2 1246.7,826.7 1251.6,825.7 1256.7,826.0 1260.6,821.0 1266.7,819.3 1272.2,817.4 1277.1,813.4 1283.3,813.3 1287.7,811.1 1291.4,807.6 1296.7,807.3 1300.1,802.8 1305.4,801.1 1310.0,798.3 1317.0,798.1 1323.3,795.0 1326.3,789.7 1331.7,786.7 1331.0,781.0 1333.3,775.6 1333.3,770.0 1338.2,767.1 1340.0,761.7 1345.2,758.6 1350.0,755.0 1352.4,750.8 1357.3,748.4 1358.3,743.3 1358.1,737.2 1363.2,732.7 1363.3,726.7 1365.9,721.2 1370.0,716.7 1373.6,712.6 1378.0,709.7 1383.3,708.3 1385.1,703.7 1388.3,700.0 1390.1,693.4 1387.6,686.6 1389.3,680.0 1390.4,673.4 1390.7,666.7 1391.9,660.1 1392.0,653.3 1394.7,648.8 1398.3,645.0 1403.4,644.1 1407.9,640.9 1413.3,641.7 1419.5,638.1 1426.7,638.3 1430.3,634.0 1436.0,632.3 1440.0,628.3 1443.1,624.8 1446.1,621.1 1450.0,618.3 1449.8,613.3 1448.7,608.4 1448.3,603.3 1446.7,597.9 1448.1,592.0 1446.0,586.7 1446.7,581.1 1444.4,575.6 1445.3,570.0 1447.1,566.8 1448.3,563.3 1453.9,564.6 1459.1,567.2 1465.0,566.7 1469.8,568.8 1475.2,568.0 1480.0,570.0 1485.6,571.9 1491.0,567.9 1496.7,569.3 1502.2,568.4 1507.9,569.3 1513.3,567.7 1517.1,570.5 1518.3,575.0 1519.8,579.4 1523.2,583.3 1522.7,588.3 1518.0,591.1 1513.5,594.1 1510.0,598.3 1504.3,602.0 1497.9,604.8 1493.3,610.0 1488.8,614.0 1482.9,616.0 1478.3,620.0 1476.3,624.9 1475.0,630.0 1476.3,636.8 1478.3,643.3 1480.7,647.7 1481.4,652.9 1485.0,656.7 1486.1,662.6 1490.7,666.6 1493.3,671.7 1494.9,678.0 1499.6,683.2 1500.0,690.0 1500.8,695.3 1502.7,700.2 1505.0,705.0 1503.6,710.3 1505.2,715.2 1507.3,720.0 1507.8,725.6 1506.9,731.2 1506.0,736.7 1503.3,742.0 1504.0,748.5 1500.0,753.3 1497.4,757.9 1495.7,763.0 1491.7,766.7 1489.0,771.7 1485.3,775.8 1480.0,778.3 1477.9,784.3 1479.8,790.8 1477.3,796.7 1476.4,803.7 1473.3,810.0 1470.4,816.1 1466.7,821.7 1462.1,824.8 1460.0,830.0 1464.4,834.1 1465.8,839.9 1468.3,845.0 1469.6,850.1 1469.6,855.5 1472.7,860.0 1471.6,866.7 1473.3,873.3 1475.5,878.3 1480.7,880.5 1483.3,885.0 1487.5,888.1 1491.5,891.2 1495.0,895.0 1497.4,901.8 1502.7,906.7 1500.7,912.8 1504.2,918.9 1502.7,925.0 1502.0,930.5 1499.8,935.4 1496.7,940.0 1494.6,945.6 1490.5,950.0 1487.3,955.0 1486.7,961.1 1487.9,967.3 1486.7,973.3 1485.1,979.1 1480.3,982.4 1476.7,986.7 1475.0,991.9 1472.0,996.5 1470.0,1001.7 1467.5,1006.4 1468.1,1011.6 1468.3,1016.7 1471.6,1021.7 1475.0,1026.7 1474.0,1033.3 1474.0,1040.0 1478.1,1045.5 1483.3,1050.0 1487.3,1051.5 1488.3,1055.7 1533.3,1046.7 1566.7,1040.0 1600.0,1033.3 1606.8,1034.4 1613.5,1033.2 1620.2,1033.0 1626.7,1030.7 1632.4,1031.2 1637.7,1028.6 1643.3,1028.3 1647.5,1024.6 1651.2,1020.3 1656.7,1018.3 1661.5,1015.1 1664.3,1009.5 1670.0,1007.3 1675.3,1004.7 1680.9,1004.5 1686.7,1005.0 1692.7,1004.4 1698.3,1006.7 1699.9,1013.2 1700.0,1020.0 1703.0,1024.6 1704.4,1029.5 1703.3,1035.0 1707.8,1037.9 1711.3,1041.6 1713.3,1046.7 1717.7,1047.8 1721.7,1050.0 1727.2,1047.1 1733.3,1048.3 1740.0,1050.0 1746.7,1048.8 1753.3,1048.3 1758.8,1048.5 1763.7,1050.6 1768.5,1052.7 1773.3,1055.0 1777.6,1057.9 1782.2,1060.4 1785.0,1065.0 1785.2,1070.5 1786.3,1075.7 1790.0,1080.0 1790.7,1086.7 1791.2,1093.3 1791.7,1100.0 1793.8,1106.6 1794.1,1113.2 1792.7,1120.0 1793.8,1126.6 1794.6,1133.3 1794.0,1140.0 1794.7,1145.0 1799.4,1148.3 1800.0,1153.3 1806.5,1154.2 1810.2,1160.7 1816.7,1161.7 1822.2,1164.0 1828.4,1164.7 1833.3,1168.3 1838.9,1169.1 1844.7,1167.4 1850.0,1170.0 1856.7,1169.6 1863.5,1171.0 1870.0,1168.3 1874.0,1173.7 1880.0,1176.7 1884.1,1179.1 1889.3,1179.0 1893.3,1181.7 1897.1,1185.2 1901.1,1188.5 1903.3,1193.3 1902.5,1198.4 1904.0,1203.3 1899.4,1208.2 1895.0,1213.3 1895.5,1220.3 1898.3,1226.7 1895.7,1232.9 1891.7,1238.3 1895.0,1242.8 1894.9,1248.9 1898.3,1253.3 1898.6,1259.7 1901.3,1265.0 1905.0,1270.0 1908.7,1272.9 1913.3,1273.3 1919.8,1275.6 1926.7,1275.0 1929.9,1279.1 1935.2,1280.8 1938.3,1285.0 1941.6,1288.9 1945.5,1292.4 1948.3,1296.7 1953.8,1291.9 1961.0,1290.8 1965.1,1296.0 1965.4,1302.6 1960.2,1305.7 1954.3,1307.1 1958.8,1308.7 1961.8,1312.8 1966.2,1314.5 1961.2,1315.3 1958.4,1319.7 1954.3,1322.0 1958.3,1326.6 1963.1,1329.8 1969.2,1330.9 1963.9,1331.0 1960.5,1335.4 1955.8,1336.8 1962.3,1338.7 1967.7,1342.8 1964.8,1347.4 1960.2,1350.2 1965.3,1349.4 1970.3,1349.9 1975.1,1351.7 1971.7,1357.4 1969.2,1363.6 1971.7,1368.3 1976.6,1370.3 1981.9,1368.7 1985.5,1364.5 1990.0,1361.7 1995.4,1358.0 2000.0,1353.3 2006.5,1351.1 2011.7,1346.7 2012.8,1339.8 2017.9,1334.7 2020.0,1328.3 2026.7,1330.1 2033.3,1328.3 2036.5,1332.1 2040.5,1334.8 2045.0,1336.7 2045.9,1342.5 2046.7,1348.3 2044.5,1353.6 2039.0,1356.5 2036.7,1361.7 2036.6,1367.6 2035.0,1373.3 2034.8,1379.1 2035.2,1384.9 2038.3,1390.0 2037.1,1394.6 2035.4,1399.0 2033.3,1403.3 2029.8,1408.3 2029.1,1414.2 2028.3,1420.0 2028.0,1425.0 2026.5,1429.5 2023.3,1433.3 2019.8,1437.9 2013.4,1438.6 2010.0,1443.3 2006.3,1448.6 2005.0,1455.0 2002.0,1459.0 1996.4,1459.4 1993.3,1463.3 1988.5,1465.2 1986.2,1469.5 1983.3,1473.3 1982.3,1478.0 1979.8,1482.1 1978.3,1486.7 1981.6,1492.9 1981.7,1500.0 1983.2,1506.8 1978.5,1513.2 1980.0,1520.0 1978.2,1526.6 1977.7,1533.3 1976.7,1540.0 1974.0,1544.7 1975.0,1550.0 1978.0,1553.7 1979.2,1558.7 1983.3,1561.7 1985.6,1566.5 1991.0,1568.6 1993.3,1573.3 1996.1,1579.7 1996.7,1586.7 1999.2,1590.8 2001.1,1595.2 2001.7,1600.0 2002.5,1606.7 2004.0,1613.3 2003.7,1619.1 2001.7,1624.5 2000.0,1630.0 1998.6,1635.3 1992.9,1637.9 1991.7,1643.3 1989.7,1648.6 1986.7,1653.3 1988.5,1657.7 1989.7,1662.4 1991.7,1666.7 1989.9,1673.3 1991.7,1680.0 1990.6,1684.6 1987.0,1688.3 1987.3,1693.3 1988.7,1700.0 1990.0,1706.7 1990.4,1713.3 1991.0,1720.0 1991.7,1726.7 1994.3,1732.0 1993.0,1737.8 1993.3,1743.3 1995.8,1748.6 1997.7,1754.0 1996.7,1760.0 1998.9,1765.2 2004.5,1768.0 2006.7,1773.3 2010.7,1778.8 2013.6,1785.0 2018.3,1790.0 2019.5,1794.5 2022.0,1798.7 2022.7,1803.3 2023.3,1809.2 2024.0,1815.0 2020.3,1818.2 2016.0,1820.8 2013.3,1825.0 2010.0,1830.2 2004.3,1832.6 2000.0,1836.7 1997.0,1841.2 1993.2,1844.9 1987.9,1847.1 1985.0,1851.7 1984.1,1857.5 1983.3,1863.3 1982.2,1870.0 1981.7,1876.7 1976.6,1880.9 1973.3,1886.7 1970.7,1891.9 1971.8,1897.8 1970.7,1903.3 1968.2,1909.0 1966.7,1915.0 1962.5,1920.0 1958.3,1925.0 1957.9,1931.1 1956.8,1937.2 1957.3,1943.3 1957.1,1950.0 1956.3,1956.7 1956.0,1963.3 1954.6,1967.8 1951.3,1971.6 1951.7,1976.7 1950.0,1983.2 1950.0,1990.0 1949.7,1995.4 1952.7,2000.0 1950.7,2006.7 1952.7,2013.3 1950.4,2017.9 1946.2,2020.9 1943.3,2025.0 1943.1,2030.6 1945.2,2035.5 1948.3,2040.0 1948.2,2045.5 1946.6,2050.5 1943.3,2055.0 1940.8,2060.1 1939.4,2065.9 1935.0,2070.0 1934.4,2074.8 1933.4,2079.5 1930.0,2083.3 1924.1,2085.4 1918.3,2087.8 1913.3,2091.7 1907.1,2092.3 1902.8,2097.5 1896.7,2098.3 1892.1,2102.2 1888.4,2106.8 1885.0,2111.7 1890.4,2115.7 1893.3,2121.7 1893.4,2128.7 1896.7,2135.0 1900.7,2139.6 1907.3,2139.5 1911.7,2143.3 1912.5,2148.8 1917.2,2152.0 1919.3,2156.7 1919.1,2162.2 1916.5,2167.6 1918.3,2173.3 1914.8,2177.1 1915.2,2182.9 1911.7,2186.7 1908.0,2190.2 1903.8,2193.3 1900.0,2196.7 1893.5,2199.0 1886.7,2200.0 1881.9,2202.2 1876.7,2201.7 1870.7,2201.6 1865.0,2200.0 1859.7,2195.8 1853.3,2193.3 1846.8,2192.4 1842.3,2187.6 1836.7,2185.0 1831.6,2183.6 1826.0,2183.7 1821.4,2180.7 1816.7,2178.3 1811.3,2176.1 1805.6,2174.9 1800.0,2173.3 1795.2,2173.8 1791.7,2170.7 1788.1,2176.0 1787.5,2182.1 1787.3,2188.3 1781.2,2191.3 1779.2,2198.5 1773.3,2201.7 1769.6,2206.8 1765.9,2212.0 1760.0,2215.0 1754.4,2219.2 1750.7,2225.0 1746.9,2219.6 1745.0,2213.3 1741.8,2209.5 1741.3,2204.6 1740.0,2200.0 1733.1,2199.0 1726.7,2201.7 1720.3,2201.4 1714.6,2204.9 1708.3,2205.0 1711.5,2211.3 1711.7,2218.3 1707.9,2221.6 1707.3,2226.7 1702.6,2226.9 1697.9,2226.9 1693.3,2228.3 1697.7,2232.5 1700.6,2237.4 1701.7,2243.3 1696.2,2246.6 1691.9,2251.4 1686.7,2255.0 1683.5,2260.3 1676.5,2261.3 1673.3,2266.7 1669.6,2269.6 1665.7,2272.4 1663.3,2276.7 1665.2,2283.3 1663.3,2290.0 1659.7,2294.4 1660.6,2300.8 1656.7,2305.0 1662.4,2306.8 1668.3,2305.3 1674.2,2305.0 1680.0,2306.0 1685.7,2306.2 1691.3,2307.9 1697.0,2305.0 1702.7,2304.4 1708.3,2306.0 1704.1,2308.7 1700.0,2311.7 1700.3,2317.9 1699.9,2324.1 1697.3,2330.0 1697.8,2336.9 1697.3,2343.6 1695.6,2350.2 1693.3,2356.7 1690.6,2360.6 1687.3,2363.9 1683.3,2366.7 1676.9,2367.2 1671.4,2370.9 1665.0,2371.7 1663.9,2377.2 1664.2,2383.1 1661.7,2388.3 1666.4,2392.9 1670.0,2398.3 1675.3,2399.0 1678.3,2403.3 1681.9,2399.9 1686.7,2398.3 1692.8,2399.9 1696.7,2405.0 1697.7,2410.4 1700.7,2415.0 1698.8,2420.8 1697.3,2426.7 1702.3,2430.8 1705.0,2436.7 1708.4,2438.2 1711.7,2440.0 1708.2,2444.4 1708.3,2450.0 1713.8,2453.9 1716.7,2460.0 1720.3,2464.5 1725.7,2466.4 1730.0,2470.0 1735.8,2470.3 1741.7,2470.7 1746.7,2475.7 1753.3,2478.3 1759.4,2480.7 1765.0,2484.0 1770.6,2484.7 1776.0,2486.2 1781.7,2486.0 1785.8,2490.2 1791.9,2489.8 1796.7,2492.7 1798.9,2497.2 1802.7,2500.4 1806.7,2503.3 1807.8,2509.1 1810.4,2514.3 1811.7,2520.0 1816.5,2518.0 1821.2,2515.4 1826.7,2516.0 1830.1,2511.1 1834.4,2507.2 1840.0,2505.0 1845.2,2504.9 1849.8,2501.7 1855.0,2501.7 1860.6,2499.4 1866.7,2500.0 1873.6,2499.0 1880.0,2501.7 1886.1,2502.1 1892.0,2501.1 1897.6,2499.2 1903.3,2497.3 1907.8,2501.4 1910.7,2506.7 1911.8,2512.2 1911.6,2517.8 1910.7,2523.3 1910.8,2530.0 1912.2,2536.7 1910.7,2543.3 1910.1,2550.0 1910.1,2556.8 1908.3,2563.3 1904.9,2568.4 1903.4,2573.9 1904.0,2580.0 1901.4,2585.5 1900.1,2591.6 1896.7,2596.7 1893.5,2603.0 1895.3,2610.1 1893.3,2616.7 1892.3,2622.4 1892.1,2628.4 1888.3,2633.3 1884.8,2637.1 1880.6,2640.1 1876.7,2643.3 1871.7,2646.7 1866.7,2650.0 1868.3,2654.9 1867.3,2660.0 1869.1,2664.5 1872.9,2668.1 1872.7,2673.3 1873.2,2680.1 1871.7,2686.7 1866.3,2690.1 1860.0,2690.0 1854.6,2692.1 1849.5,2695.3 1843.3,2695.0 1839.3,2699.4 1833.3,2700.0 1830.1,2705.0 1826.4,2709.7 1821.7,2713.3 1815.4,2715.2 1809.4,2717.7 1803.3,2720.0 1796.4,2720.6 1790.0,2723.3 1784.6,2727.0 1780.0,2731.7 1775.6,2726.8 1770.0,2723.3 1766.1,2720.1 1760.9,2720.5 1756.7,2718.3 1750.0,2719.1 1743.3,2716.2 1736.7,2718.3 1731.2,2718.1 1727.0,2714.1 1721.9,2712.7 1716.7,2711.7 1711.0,2711.9 1707.1,2706.9 1702.2,2705.0 1696.7,2705.0 1691.0,2703.2 1685.2,2701.5 1679.5,2699.9 1673.3,2700.0 1666.4,2700.5 1660.0,2697.7 1653.3,2696.7 1647.5,2693.3 1641.7,2690.0 1643.6,2683.4 1642.7,2676.7 1639.2,2672.8 1635.0,2669.9 1630.0,2668.3 1626.9,2664.7 1624.6,2660.4 1620.0,2658.3 1614.6,2656.4 1609.1,2655.3 1603.3,2655.0 1596.8,2657.0 1590.0,2656.7 1584.5,2659.5 1578.3,2658.3 1573.9,2656.1 1571.7,2651.7 1568.6,2646.9 1566.7,2641.7 1560.0,2639.8 1555.0,2635.0 1550.0,2633.5 1545.0,2634.7 1540.0,2635.0 1534.3,2632.8 1528.5,2631.1 1522.7,2629.2 1516.7,2628.3 1483.3,2620.0 1450.0,2611.7 1416.7,2603.3 1383.3,2595.0 1379.2,2597.5 1375.0,2600.0 1369.7,2598.6 1368.0,2592.8 1363.3,2590.7 1356.9,2588.3 1350.0,2588.0 1343.3,2586.7 1337.8,2584.3 1332.5,2581.6 1326.7,2580.0 1320.1,2579.3 1315.0,2575.0 1313.1,2569.5 1309.3,2565.0 1307.7,2559.3 1308.3,2553.3 1310.1,2547.3 1315.0,2543.3 1318.2,2539.2 1323.4,2537.4 1326.7,2533.3 1327.1,2528.4 1331.0,2524.8 1331.7,2520.0 1336.7,2516.2 1338.3,2510.0 1335.8,2504.2 1333.3,2498.3 1329.8,2494.2 1327.0,2489.5 1324.0,2485.0 1318.3,2486.8 1313.3,2490.0 1309.1,2484.9 1303.3,2481.7 1299.2,2477.4 1294.9,2473.4 1290.0,2470.0 1284.2,2469.5 1279.4,2467.0 1275.0,2463.3 1270.4,2460.8 1267.9,2455.9 1263.3,2453.3 1262.3,2447.8 1263.2,2442.2 1262.7,2436.7 1262.6,2431.4 1264.7,2427.0 1268.3,2423.3 1269.6,2418.4 1273.5,2414.8 1275.0,2410.0 1271.5,2404.5 1266.7,2400.0 1262.0,2397.2 1256.3,2396.7 1251.7,2393.7 1246.7,2391.7 1240.5,2390.2 1234.4,2388.5 1228.3,2386.7 1222.7,2383.4 1220.7,2376.6 1215.0,2373.3 1210.2,2370.4 1208.7,2364.1 1203.3,2361.7 1204.7,2355.4 1200.1,2349.6 1201.7,2343.3 1197.7,2340.1 1194.8,2335.6 1190.0,2333.3 1187.0,2327.4 1181.0,2324.6 1176.7,2320.0 1172.1,2314.7 1169.3,2308.3 1165.2,2305.2 1164.6,2299.3 1160.0,2296.7 1155.0,2295.6 1151.3,2291.9 1146.7,2290.0 1141.1,2287.9 1137.3,2283.3 1136.8,2276.7 1136.0,2270.0 1140.9,2268.1 1142.0,2262.2 1146.7,2260.0 1153.5,2260.6 1160.0,2258.3 1165.6,2255.0 1172.0,2253.1 1176.7,2248.3 1181.6,2246.3 1184.9,2241.8 1190.0,2240.0 1193.4,2233.8 1193.3,2226.7 1193.3,2221.7 1193.3,2216.7 1194.0,2210.7 1198.3,2206.7 1194.6,2201.7 1195.0,2195.6 1193.3,2190.0 1191.1,2183.4 1189.3,2176.7 1188.8,2171.6 1190.0,2166.7 1184.0,2163.7 1180.0,2158.3 1173.3,2158.5 1166.7,2157.3 1162.3,2155.0 1159.8,2150.1 1155.0,2148.3 1150.4,2145.7 1150.3,2139.9 1146.7,2136.7 1145.8,2131.1 1140.7,2127.3 1140.0,2121.7 1135.8,2117.5 1130.0,2116.7 1124.4,2116.3 1118.7,2116.0 1113.3,2118.3 1106.9,2120.9 1100.0,2121.7 1096.0,2123.4 1091.7,2124.0 1086.9,2120.7 1082.7,2116.7 1084.4,2109.8 1081.7,2103.3 1079.8,2098.7 1076.7,2094.7 1075.0,2090.0 1074.7,2084.4 1074.0,2078.9 1075.0,2073.3 1070.5,2069.9 1068.0,2065.4 1066.7,2060.0 1065.5,2054.8 1061.0,2051.6 1059.3,2046.7 1062.3,2042.1 1060.5,2036.4 1062.7,2031.7 1061.3,2026.7 1062.0,2021.7 1061.7,2016.7 1056.9,2014.4 1053.5,2010.4 1050.0,2006.7 1047.1,2001.8 1041.7,2000.0 1043.9,1994.6 1044.1,1989.0 1043.3,1983.3 1043.7,1976.6 1044.7,1969.9 1042.7,1963.3 1045.9,1957.0 1045.5,1950.0 1046.7,1943.3 1047.8,1937.5 1045.0,1931.6 1048.2,1925.9 1047.3,1920.0 1048.0,1913.3 1050.2,1906.8 1050.0,1900.0 1054.6,1896.3 1058.3,1891.7 1053.9,1889.7 1049.4,1887.7 1046.7,1883.3 1043.3,1878.5 1036.8,1878.0 1033.3,1873.3 1028.3,1872.3 1023.2,1871.8 1018.3,1870.0 1015.3,1866.0 1014.8,1860.6 1011.7,1856.7 1013.3,1849.8 1010.7,1843.3 1013.0,1838.8 1017.4,1836.0 1020.0,1831.7 1020.9,1827.2 1023.3,1823.3 1018.5,1819.8 1013.3,1816.7 1008.7,1814.9 1003.8,1813.5 1000.0,1810.0 994.3,1808.8 990.0,1805.0 989.6,1799.0 991.7,1793.3 997.2,1789.5 1000.0,1783.3 1001.1,1777.8 1001.0,1772.0 1003.3,1766.7 1007.6,1763.2 1010.7,1758.9 1011.7,1753.3 1013.1,1746.6 1015.0,1740.0 1013.4,1733.3 1013.6,1726.7 1015.0,1720.0 1010.4,1717.9 1007.8,1713.8 1005.0,1710.0 999.9,1708.0 996.5,1704.2 993.3,1700.0 991.4,1693.5 991.7,1686.7 988.6,1682.0 986.4,1676.8 981.7,1673.3 981.0,1668.0 978.3,1663.3 979.6,1658.8 981.3,1654.3 983.3,1650.0 984.8,1644.5 985.5,1638.8 987.3,1633.3 988.1,1627.6 988.4,1621.7 991.7,1616.7 992.4,1610.8 997.0,1606.1 996.7,1600.0 991.7,1598.9 988.3,1595.0 984.2,1597.5 980.0,1600.0 975.2,1603.5 970.1,1606.6 966.7,1611.7 961.4,1614.0 955.8,1614.9 950.0,1615.0 944.6,1618.5 938.3,1620.0 933.9,1617.0 930.0,1613.3 930.6,1606.6 931.7,1600.0 937.0,1597.2 939.3,1591.7 937.6,1585.9 933.3,1581.7 930.4,1577.6 924.3,1577.8 921.7,1573.3 917.0,1569.3 916.0,1563.3 919.6,1559.7 921.7,1555.0 927.1,1552.1 930.0,1546.7 930.4,1540.0 931.5,1533.4 931.7,1526.7 931.9,1521.2 935.7,1517.6 938.3,1513.3 940.8,1508.0 940.9,1502.4 940.0,1496.7 943.7,1491.7 946.4,1486.3 946.7,1480.0 946.9,1474.7 949.3,1470.0 943.0,1471.7 936.7,1470.0 930.1,1468.0 925.0,1463.3 922.9,1458.8 921.3,1454.1 918.3,1450.0 917.8,1444.7 914.8,1440.7 911.7,1436.7 916.3,1432.1 920.0,1426.7 925.7,1423.4 930.0,1418.3 930.9,1412.2 932.4,1406.2 933.3,1400.0 927.8,1395.6 926.6,1388.2 921.7,1383.3 918.4,1378.2 918.9,1371.5 915.0,1366.7 915.1,1361.0 913.0,1355.6 913.3,1350.0 912.3,1344.3 913.4,1338.8 915.0,1333.3 913.3,1328.6 911.3,1324.1 908.3,1320.0 910.2,1313.6 913.4,1307.9 918.3,1303.3 917.9,1297.8 917.6,1292.2 916.7,1286.7 914.0,1282.4 911.1,1278.3 910.0,1273.3 910.4,1267.8 907.8,1262.2 910.0,1256.7 910.8,1249.8 913.3,1243.3 911.8,1237.8 912.6,1231.8 909.3,1226.7 910.7,1221.2 912.6,1215.8 911.7,1210.0 914.9,1204.9 917.4,1199.4 921.7,1195.0 926.0,1190.7 932.8,1190.0 936.7,1185.0 940.7,1181.7 942.7,1176.7 946.7,1173.3 949.6,1167.4 955.6,1164.4 960.0,1160.0 965.3,1158.2 969.8,1154.7 974.5,1151.5 980.0,1150.0 984.9,1147.3 990.0,1144.8 993.3,1140.0 993.3,1134.2 993.5,1128.5 996.7,1123.3 996.5,1117.7 997.4,1112.2 998.3,1106.7 999.6,1100.1 999.3,1093.3 997.8,1087.4 999.0,1081.3 1004.9,1081.6 1010.5,1080.4 1016.0,1078.5 1021.6,1077.5 1018.7,1072.4 1020.2,1066.0 1016.6,1061.1 1020.8,1056.1 1027.0,1053.3 1030.0,1047.0 1035.5,1043.5 1041.7,1044.0 1046.9,1048.0 1053.1,1048.6 1050.7,1043.8 1051.8,1037.9 1048.4,1033.5 1046.8,1028.4 1052.6,1027.7 1058.2,1028.4 1063.8,1029.9 1069.4,1030.9 1069.7,1025.0 1070.6,1019.0 1068.2,1013.3 1069.4,1008.7 1073.2,1005.8 1079.9,1005.7 1086.7,1005.3 1093.3,1007.0 1098.4,1002.7 1098.7,995.3 1103.4,990.7 1097.5,988.0 1092.9,983.7 1089.6,978.1 1093.4,974.4 1099.0,972.7 1102.0,968.0 1105.7,962.7 1107.2,956.6 1108.4,950.4 1114.3,951.6 1119.8,950.3 1124.9,946.7 1130.3,945.0 1136.1,945.4 1132.8,939.8 1127.6,936.2 1122.3,932.8 1117.5,930.9 1116.1,925.6 1112.2,922.8 1107.4,918.1 1103.4,912.7 1101.0,907.2 1099.6,901.4 1105.1,899.1 1110.6,896.8 1116.7,896.7 1121.6,892.9 1127.5,892.4 1133.3,891.7 1138.5,887.2 1145.6,885.5 1150.0,880.0 1155.2,877.3 1161.5,879.8 1166.7,876.7 1171.9,873.8 1177.6,872.7 1183.3,871.7 1189.5,870.2 1195.1,867.4 1200.0,863.3 1205.4,860.3 1210.2,856.0 1216.7,855.0Z" fill="none" stroke="#000" stroke-width="17.5" stroke-linejoin="round"/>
<text x="1355.8" y="758.3" font-family="Sarabun,'TH Sarabun New','Noto Sans Thai',Loma,'Liberation Sans',sans-serif" font-size="45" font-weight="300" font-style="italic" fill="#730000" textLength="141.7" lengthAdjust="spacingAndGlyphs">อ.ชื่นชม</text>
<text x="1225.8" y="981.7" font-family="Sarabun,'TH Sarabun New','Noto Sans Thai',Loma,'Liberation Sans',sans-serif" font-size="45" font-weight="300" font-style="italic" fill="#730000" textLength="170.0" lengthAdjust="spacingAndGlyphs">อ.เชียงยืน</text>
<text x="1537.5" y="1165.0" font-family="Sarabun,'TH Sarabun New','Noto Sans Thai',Loma,'Liberation Sans',sans-serif" font-size="45" font-weight="300" font-style="italic" fill="#730000" textLength="213.3" lengthAdjust="spacingAndGlyphs">อ.กันทรวิชัย</text>
<text x="1594.2" y="1421.7" font-family="Sarabun,'TH Sarabun New','Noto Sans Thai',Loma,'Liberation Sans',sans-serif" font-size="45" font-weight="300" font-style="italic" fill="#730000" textLength="338.3" lengthAdjust="spacingAndGlyphs">อ.เมืองมหาสารคาม</text>
<text x="1809.2" y="1606.7" font-family="Sarabun,'TH Sarabun New','Noto Sans Thai',Loma,'Liberation Sans',sans-serif" font-size="45" font-weight="300" font-style="italic" fill="#730000" textLength="133.3" lengthAdjust="spacingAndGlyphs">อ.แกดำ</text>
<text x="1662.5" y="1961.7" font-family="Sarabun,'TH Sarabun New','Noto Sans Thai',Loma,'Liberation Sans',sans-serif" font-size="45" font-weight="300" font-style="italic" fill="#730000" textLength="191.7" lengthAdjust="spacingAndGlyphs">อ.วาปีปทุม</text>
<text x="1518.2" y="2181.7" font-family="Sarabun,'TH Sarabun New','Noto Sans Thai',Loma,'Liberation Sans',sans-serif" font-size="45" font-weight="300" font-style="italic" fill="#730000" textLength="138.3" lengthAdjust="spacingAndGlyphs">อ.นาดูน</text>
<text x="1402.5" y="2529.3" font-family="Sarabun,'TH Sarabun New','Noto Sans Thai',Loma,'Liberation Sans',sans-serif" font-size="45" font-weight="300" font-style="italic" fill="#730000" textLength="276.7" lengthAdjust="spacingAndGlyphs">อ.พยัคฆภูมิพิสัย</text>
<text x="1176.8" y="2050.7" font-family="Sarabun,'TH Sarabun New','Noto Sans Thai',Loma,'Liberation Sans',sans-serif" font-size="45" font-weight="300" font-style="italic" fill="#730000" textLength="170.7" lengthAdjust="spacingAndGlyphs">อ.นาเชือก</text>
<text x="1223.5" y="2298.3" font-family="Sarabun,'TH Sarabun New','Noto Sans Thai',Loma,'Liberation Sans',sans-serif" font-size="45" font-weight="300" font-style="italic" fill="#730000" textLength="222.3" lengthAdjust="spacingAndGlyphs">อ.ยางสีสุราช</text>
<text x="1020.8" y="1656.7" font-family="Sarabun,'TH Sarabun New','Noto Sans Thai',Loma,'Liberation Sans',sans-serif" font-size="45" font-weight="300" font-style="italic" fill="#730000" textLength="128.4" lengthAdjust="spacingAndGlyphs">อ.กุดรัง</text>
<text x="1292.5" y="1715.0" font-family="Sarabun,'TH Sarabun New','Noto Sans Thai',Loma,'Liberation Sans',sans-serif" font-size="45" font-weight="300" font-style="italic" fill="#730000" textLength="140.0" lengthAdjust="spacingAndGlyphs">อ.บรบือ</text>
<text x="1077.5" y="1273.3" font-family="Sarabun,'TH Sarabun New','Noto Sans Thai',Loma,'Liberation Sans',sans-serif" font-size="45" font-weight="300" font-style="italic" fill="#730000" textLength="208.3" lengthAdjust="spacingAndGlyphs">อ.โกสุมพิสัย</text>
<text x="338.5" y="2735.0" font-family="FreeSerif,'Noto Serif Thai','Liberation Serif',serif" font-size="52" font-weight="400" textLength="247.0" lengthAdjust="spacingAndGlyphs">มาตราส่วน</text>
<text x="610.0" y="2735.0" font-family="FreeSerif,'Noto Serif Thai','Liberation Serif',serif" font-size="54" font-weight="400" textLength="221.0" lengthAdjust="spacingAndGlyphs">1:750,000</text>
<rect x="112.5" y="2839.4" width="634.0" height="25.8" fill="#000"/>
<rect x="153.6" y="2842.6" width="36.6" height="19.4" fill="#fff"/>
<rect x="232.9" y="2842.6" width="36.6" height="19.4" fill="#fff"/>
<rect x="431.0" y="2842.6" width="155.5" height="19.4" fill="#fff"/>
<text x="114.5" y="2819.5" font-family="'Liberation Sans',Arial,sans-serif" font-size="44" font-weight="400" text-anchor="middle">0</text>
<text x="191.8" y="2819.5" font-family="'Liberation Sans',Arial,sans-serif" font-size="44" font-weight="400" text-anchor="middle">5</text>
<text x="271.0" y="2819.5" font-family="'Liberation Sans',Arial,sans-serif" font-size="44" font-weight="400" text-anchor="middle">10</text>
<text x="429.5" y="2819.5" font-family="'Liberation Sans',Arial,sans-serif" font-size="44" font-weight="400" text-anchor="middle">20</text>
<text x="585.0" y="2819.5" font-family="'Liberation Sans',Arial,sans-serif" font-size="44" font-weight="400" text-anchor="middle">30</text>
<text x="743.5" y="2819.5" font-family="'Liberation Sans',Arial,sans-serif" font-size="44" font-weight="400" text-anchor="middle">40</text>
<text x="755.0" y="2865.0" font-family="'Liberation Sans',Arial,sans-serif" font-size="44.5" font-weight="400">KM</text>
<text x="2200.8" y="2504.8" font-family="Sarabun,'TH Sarabun New','Noto Sans Thai',Loma,'Liberation Sans',sans-serif" font-size="82" font-weight="400" textLength="692.0" lengthAdjust="spacingAndGlyphs">ปริมาณฝน (มม./เดือน)</text>
<path d="M2203,2509.8 H2891" stroke="#000" stroke-width="3"/>
<text x="2319.9" y="2644.3" font-family="Sarabun,'TH Sarabun New','Noto Sans Thai',Loma,'Liberation Sans',sans-serif" font-size="68" font-weight="400" textLength="205.5" lengthAdjust="spacingAndGlyphs">ค่าสูงสุด</text>
<text x="2608.5" y="2644.3" font-family="Sarabun,'TH Sarabun New','Noto Sans Thai',Loma,'Liberation Sans',sans-serif" font-size="62" font-weight="400" textLength="106.5" lengthAdjust="spacingAndGlyphs">176</text>
<text x="2319.9" y="2764.8" font-family="Sarabun,'TH Sarabun New','Noto Sans Thai',Loma,'Liberation Sans',sans-serif" font-size="68" font-weight="400" textLength="205.5" lengthAdjust="spacingAndGlyphs">ค่าต่ำสุด</text>
<text x="2608.5" y="2764.8" font-family="Sarabun,'TH Sarabun New','Noto Sans Thai',Loma,'Liberation Sans',sans-serif" font-size="62" font-weight="400" textLength="107.5" lengthAdjust="spacingAndGlyphs">109</text>
<text x="2057.0" y="2866.7" font-family="Sarabun,'TH Sarabun New','Noto Sans Thai',Loma,'Liberation Sans',sans-serif" font-size="43" font-weight="300" textLength="835.0" lengthAdjust="spacingAndGlyphs">ที่มา  สถาบันสารสนเทศทรัพยากรน้ำ (องค์การมหาชน)</text>
<text x="2955.5" y="148.8" font-family="FreeSerif,'Noto Serif Thai','Liberation Serif',serif" font-size="64" font-weight="400" textLength="565.0" lengthAdjust="spacingAndGlyphs" stroke="#000" stroke-width="1.3">ปริมาณฝน (มม./เดือน)</text>
<rect x="3080.9" y="179.0" width="139.1" height="70.2" fill="#ffffff" stroke="#6e6e6e" stroke-width="3.8" stroke-linejoin="round"/>
<rect x="3080.9" y="249.2" width="139.1" height="70.2" fill="#ffffcc" stroke="#6e6e6e" stroke-width="3.8" stroke-linejoin="round"/>
<rect x="3080.9" y="319.4" width="139.1" height="70.2" fill="#ffff99" stroke="#6e6e6e" stroke-width="3.8" stroke-linejoin="round"/>
<rect x="3080.9" y="389.6" width="139.1" height="70.2" fill="#ffff00" stroke="#6e6e6e" stroke-width="3.8" stroke-linejoin="round"/>
<rect x="3080.9" y="459.8" width="139.1" height="70.2" fill="#ccff00" stroke="#6e6e6e" stroke-width="3.8" stroke-linejoin="round"/>
<rect x="3080.9" y="529.9" width="139.1" height="70.2" fill="#99ff00" stroke="#6e6e6e" stroke-width="3.8" stroke-linejoin="round"/>
<rect x="3080.9" y="600.1" width="139.1" height="70.2" fill="#66ff00" stroke="#6e6e6e" stroke-width="3.8" stroke-linejoin="round"/>
<rect x="3080.9" y="670.3" width="139.1" height="70.2" fill="#33ff00" stroke="#6e6e6e" stroke-width="3.8" stroke-linejoin="round"/>
<rect x="3080.9" y="740.5" width="139.1" height="70.7" fill="#00ff33" stroke="#6e6e6e" stroke-width="3.8" stroke-linejoin="round"/>
<rect x="3080.9" y="811.2" width="139.1" height="70.7" fill="#00ff66" stroke="#6e6e6e" stroke-width="3.8" stroke-linejoin="round"/>
<rect x="3080.9" y="881.8" width="139.1" height="70.7" fill="#00ff99" stroke="#6e6e6e" stroke-width="3.8" stroke-linejoin="round"/>
<rect x="3080.9" y="952.5" width="139.1" height="70.7" fill="#00ffcc" stroke="#6e6e6e" stroke-width="3.8" stroke-linejoin="round"/>
<rect x="3080.9" y="1023.2" width="139.1" height="70.7" fill="#00ffff" stroke="#6e6e6e" stroke-width="3.8" stroke-linejoin="round"/>
<rect x="3080.9" y="1093.8" width="139.1" height="70.7" fill="#00ccff" stroke="#6e6e6e" stroke-width="3.8" stroke-linejoin="round"/>
<rect x="3080.9" y="1164.5" width="139.1" height="70.7" fill="#0099ff" stroke="#6e6e6e" stroke-width="3.8" stroke-linejoin="round"/>
<rect x="3080.9" y="1235.2" width="139.1" height="70.7" fill="#0066ff" stroke="#6e6e6e" stroke-width="3.8" stroke-linejoin="round"/>
<rect x="3080.9" y="1305.8" width="139.1" height="70.7" fill="#0033ff" stroke="#6e6e6e" stroke-width="3.8" stroke-linejoin="round"/>
<rect x="3080.9" y="1376.5" width="139.1" height="69.8" fill="#0000ff" stroke="#6e6e6e" stroke-width="3.8" stroke-linejoin="round"/>
<rect x="3080.9" y="1446.3" width="139.1" height="69.8" fill="#4000ff" stroke="#6e6e6e" stroke-width="3.8" stroke-linejoin="round"/>
<rect x="3080.9" y="1516.2" width="139.1" height="69.8" fill="#6600ff" stroke="#6e6e6e" stroke-width="3.8" stroke-linejoin="round"/>
<rect x="3080.9" y="1586.0" width="139.1" height="69.8" fill="#9900ff" stroke="#6e6e6e" stroke-width="3.8" stroke-linejoin="round"/>
<rect x="3080.9" y="1655.8" width="139.1" height="69.8" fill="#cc00ff" stroke="#6e6e6e" stroke-width="3.8" stroke-linejoin="round"/>
<rect x="3080.9" y="1725.7" width="139.1" height="69.8" fill="#ff00a5" stroke="#6e6e6e" stroke-width="3.8" stroke-linejoin="round"/>
<rect x="3080.9" y="1795.5" width="139.1" height="69.8" fill="#ff0059" stroke="#6e6e6e" stroke-width="3.8" stroke-linejoin="round"/>
<rect x="3080.9" y="1865.3" width="139.1" height="69.8" fill="#ed0520" stroke="#6e6e6e" stroke-width="3.8" stroke-linejoin="round"/>
<rect x="3080.9" y="1935.2" width="139.1" height="69.8" fill="#c8051a" stroke="#6e6e6e" stroke-width="3.8" stroke-linejoin="round"/>
<rect x="3080.9" y="2005.0" width="139.1" height="70.4" fill="#b40000" stroke="#6e6e6e" stroke-width="3.8" stroke-linejoin="round"/>
<text x="3243.5" y="233.6" font-family="'Liberation Sans',Arial,sans-serif" font-size="49.2" font-weight="400">0-10</text>
<text x="3243.5" y="303.8" font-family="'Liberation Sans',Arial,sans-serif" font-size="49.2" font-weight="400">10-20</text>
<text x="3243.5" y="374.0" font-family="'Liberation Sans',Arial,sans-serif" font-size="49.2" font-weight="400">20-40</text>
<text x="3243.5" y="444.2" font-family="'Liberation Sans',Arial,sans-serif" font-size="49.2" font-weight="400">40-80</text>
<text x="3243.5" y="514.4" font-family="'Liberation Sans',Arial,sans-serif" font-size="49.2" font-weight="400">80-100</text>
<text x="3243.5" y="584.5" font-family="'Liberation Sans',Arial,sans-serif" font-size="49.2" font-weight="400">100-120</text>
<text x="3243.5" y="654.7" font-family="'Liberation Sans',Arial,sans-serif" font-size="49.2" font-weight="400">120-140</text>
<text x="3243.5" y="724.9" font-family="'Liberation Sans',Arial,sans-serif" font-size="49.2" font-weight="400">140-150</text>
<text x="3243.5" y="795.1" font-family="'Liberation Sans',Arial,sans-serif" font-size="49.2" font-weight="400">150-160</text>
<text x="3243.5" y="865.8" font-family="'Liberation Sans',Arial,sans-serif" font-size="49.2" font-weight="400">160-170</text>
<text x="3243.5" y="936.4" font-family="'Liberation Sans',Arial,sans-serif" font-size="49.2" font-weight="400">170 -180</text>
<text x="3243.5" y="1007.1" font-family="'Liberation Sans',Arial,sans-serif" font-size="49.2" font-weight="400">180-190</text>
<text x="3243.5" y="1077.8" font-family="'Liberation Sans',Arial,sans-serif" font-size="49.2" font-weight="400">190-200</text>
<text x="3243.5" y="1148.4" font-family="'Liberation Sans',Arial,sans-serif" font-size="49.2" font-weight="400">200-210</text>
<text x="3243.5" y="1219.1" font-family="'Liberation Sans',Arial,sans-serif" font-size="49.2" font-weight="400">210-220</text>
<text x="3243.5" y="1289.8" font-family="'Liberation Sans',Arial,sans-serif" font-size="49.2" font-weight="400">220-230</text>
<text x="3243.5" y="1360.4" font-family="'Liberation Sans',Arial,sans-serif" font-size="49.2" font-weight="400">230-240</text>
<text x="3243.5" y="1431.1" font-family="'Liberation Sans',Arial,sans-serif" font-size="49.2" font-weight="400">240-250</text>
<text x="3243.5" y="1500.9" font-family="'Liberation Sans',Arial,sans-serif" font-size="49.2" font-weight="400">250-260</text>
<text x="3243.5" y="1570.8" font-family="'Liberation Sans',Arial,sans-serif" font-size="49.2" font-weight="400">260-270</text>
<text x="3243.5" y="1640.6" font-family="'Liberation Sans',Arial,sans-serif" font-size="49.2" font-weight="400">270-280</text>
<text x="3243.5" y="1710.4" font-family="'Liberation Sans',Arial,sans-serif" font-size="49.2" font-weight="400">280-290</text>
<text x="3243.5" y="1780.3" font-family="'Liberation Sans',Arial,sans-serif" font-size="49.2" font-weight="400">290-300</text>
<text x="3243.5" y="1850.1" font-family="'Liberation Sans',Arial,sans-serif" font-size="49.2" font-weight="400">300-400</text>
<text x="3243.5" y="1919.9" font-family="'Liberation Sans',Arial,sans-serif" font-size="49.2" font-weight="400">400-500</text>
<text x="3243.5" y="1989.8" font-family="'Liberation Sans',Arial,sans-serif" font-size="49.2" font-weight="400">500-700</text>
<text x="3243.5" y="2059.6" font-family="'Liberation Sans',Arial,sans-serif" font-size="49.2" font-weight="400">700-3000</text>
<text x="3075.0" y="2189.6" font-family="Sarabun,'TH Sarabun New','Noto Sans Thai',Loma,'Liberation Sans',sans-serif" font-size="48" font-weight="500" textLength="365.0" lengthAdjust="spacingAndGlyphs">คำอธิบายสัญลักษณ์</text>
<path d="M3077,2194 H3439" stroke="#000" stroke-width="1.8"/>
<path d="M3038,2262.3 H3161.5" stroke="#00c5ff" stroke-width="5" stroke-linecap="round"/>
<text x="3181.5" y="2278.7" font-family="Sarabun,'TH Sarabun New','Noto Sans Thai',Loma,'Liberation Sans',sans-serif" font-size="44" font-weight="300" textLength="100.6" lengthAdjust="spacingAndGlyphs">แม่น้ำ</text>
<rect x="3038.4" y="2315.7" width="122.2" height="60.4" fill="#fff" stroke="#000" stroke-width="16.7" stroke-linejoin="round"/>
<text x="3181.5" y="2362.3" font-family="Sarabun,'TH Sarabun New','Noto Sans Thai',Loma,'Liberation Sans',sans-serif" font-size="44" font-weight="300" textLength="262.0" lengthAdjust="spacingAndGlyphs">ขอบเขตจังหวัด</text>
<rect x="3038" y="2397" width="122" height="60.5" fill="#fff" stroke="#fcaa8e" stroke-width="1.6"/>
<text x="3181.5" y="2445.8" font-family="Sarabun,'TH Sarabun New','Noto Sans Thai',Loma,'Liberation Sans',sans-serif" font-size="44" font-weight="300" textLength="255.8" lengthAdjust="spacingAndGlyphs">ขอบเขตอำเภอ</text>
<rect x="3037.8" y="2480" width="122.4" height="60.5" fill="#005ae6"/>
<text x="3181.5" y="2527.5" font-family="Sarabun,'TH Sarabun New','Noto Sans Thai',Loma,'Liberation Sans',sans-serif" font-size="44" font-weight="300" textLength="148.0" lengthAdjust="spacingAndGlyphs">แหล่งน้ำ</text>
<g id="logo">
<path d="M3208.4,2584 C3220,2609 3258.6,2630 3258.6,2663 A50.2,50.2 0 0 1 3158.2,2663 C3158.2,2630 3197,2609 3208.4,2584 Z" fill="#fff" stroke="#1482ab" stroke-width="4.6" stroke-linejoin="miter"/>
<path d="M3208.4,2595.5 C3218,2615 3251.6,2635 3251.6,2663 A43.2,43.2 0 0 1 3165.2,2663 C3165.2,2635 3199,2615 3208.4,2595.5 Z" fill="none" stroke="#1482ab" stroke-width="1.3"/>
<defs><clipPath id="drop"><circle cx="3208.4" cy="2663" r="42.6"/></clipPath>
<radialGradient id="gold" cx="3208" cy="2655" r="40" gradientUnits="userSpaceOnUse"><stop offset="0" stop-color="#ffd900"/><stop offset=".6" stop-color="#fdbf0f"/><stop offset="1" stop-color="#f59a1b"/></radialGradient></defs>
<g clip-path="url(#drop)" fill="none" stroke="#1482ab" stroke-width="3.4" stroke-linecap="round">
<path d="M3166,2685.6 H3250"/>
<path d="M3170,2687 C3190,2686 3212,2692 3230,2700 S3248,2700 3252,2694"/>
<path d="M3182,2698 C3192,2694 3200,2690 3208,2691 S3232,2703 3240,2703"/>
<path d="M3174,2700 C3186,2708 3200,2712 3212,2711 S3238,2702 3250,2690"/>
</g>
<g fill="url(#gold)" stroke="#e9552a" stroke-width=".7" stroke-opacity=".75" stroke-dasharray="1.3 1.7" stroke-linejoin="round">
<polygon points="3182.0,2628.5 3195.5,2630.0 3198.0,2638.0 3194.0,2642.2 3197.2,2650.0 3193.0,2657.0 3196.8,2663.0 3189.0,2666.0 3192.0,2672.0 3182.0,2673.2 3175.0,2663.0 3178.2,2660.0 3172.0,2655.0 3176.2,2650.0 3172.5,2646.0 3177.2,2642.0 3175.0,2636.0 3180.2,2634.0"/><polygon points="3235.0,2628.5 3221.5,2630.0 3219.0,2638.0 3223.0,2642.2 3219.8,2650.0 3224.0,2657.0 3220.2,2663.0 3228.0,2666.0 3225.0,2672.0 3235.0,2673.2 3242.0,2663.0 3238.8,2660.0 3245.0,2655.0 3240.8,2650.0 3244.5,2646.0 3239.8,2642.0 3242.0,2636.0 3236.8,2634.0"/><polygon points="3199.0,2626.2 3204.0,2624.8 3213.0,2624.8 3218.0,2626.2 3219.0,2630.2 3213.8,2631.2 3213.8,2637.6 3219.0,2639.0 3213.2,2649.0 3217.2,2660.0 3215.2,2664.2 3215.2,2671.2 3230.2,2674.0 3233.2,2686.2 3184.0,2686.2 3186.2,2674.0 3201.6,2671.2 3201.6,2664.2 3200.0,2660.0 3204.0,2649.0 3197.2,2639.0 3203.5,2637.6 3203.5,2631.2 3198.0,2630.2"/>
</g>
<g fill="#fff">
<polygon points="3202.2,2665.2 3214.8,2665.2 3214.8,2670.6 3202.2,2670.6"/>
<rect x="3188.5" y="2680.4" width="4.2" height="4.4"/>
<rect x="3196.0" y="2680.4" width="4.2" height="4.4"/>
<rect x="3203.5" y="2680.4" width="4.2" height="4.4"/>
<rect x="3211.0" y="2680.4" width="4.2" height="4.4"/>
<rect x="3218.5" y="2680.4" width="4.2" height="4.4"/>
<rect x="3225.5" y="2680.4" width="4.2" height="4.4"/>
</g>
<path d="M3197.6,2640.6 H3218.6 M3186.0,2672.6 H3230" stroke="#e9452a" stroke-width="1" fill="none"/>
<path id="arc" d="M3143.6,2690.4 A70.6,70.6 0 0 0 3273.2,2690.4" fill="none"/>
<text font-family="Sarabun,'TH Sarabun New','Noto Sans Thai',Loma,'Liberation Sans',sans-serif" font-size="12.5" font-weight="500" font-style="italic" fill="#1482ab"><textPath href="#arc" startOffset="1" textLength="160" lengthAdjust="spacingAndGlyphs">สำนักงานทรัพยากรน้ำแห่งชาติ</textPath></text>
</g>
<text x="3132.1" y="2806.2" font-family="Sarabun,'TH Sarabun New','Noto Sans Thai',Loma,'Liberation Sans',sans-serif" font-size="40" font-weight="600" textLength="153.7" lengthAdjust="spacingAndGlyphs">จัดทำโดย</text>
<text x="2926.0" y="2866.0" font-family="Sarabun,'TH Sarabun New','Noto Sans Thai',Loma,'Liberation Sans',sans-serif" font-size="39" font-weight="600" textLength="593.5" lengthAdjust="spacingAndGlyphs">สำนักงานทรัพยากรน้ำแห่งชาติภาค 3</text>
</svg></body></html>
